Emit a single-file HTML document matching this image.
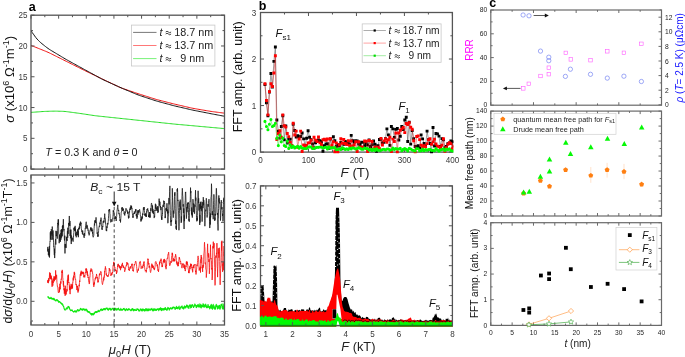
<!DOCTYPE html><html><head><meta charset="utf-8"><style>html,body{margin:0;padding:0;background:#fff;width:685px;height:357px;overflow:hidden}svg{display:block;will-change:transform}text{font-family:"Liberation Sans",sans-serif}</style></head><body>
<svg width="685" height="357" viewBox="0 0 685 357">
<rect width="685" height="357" fill="#fff"/>
<clipPath id="cat"><rect x="31.0" y="15.2" width="193.5" height="153.9"/></clipPath>
<g clip-path="url(#cat)">
<polyline points="31,112.4 32.22,112.29 33.43,112.22 34.65,112.13 35.87,112.04 37.08,111.95 38.3,111.86 39.52,111.77 40.74,111.68 41.95,111.59 43.17,111.51 44.39,111.44 45.6,111.39 46.82,111.34 48.04,111.3 49.25,111.27 50.47,111.23 51.69,111.2 52.91,111.16 54.12,111.15 55.34,111.15 56.56,111.16 57.77,111.18 58.99,111.22 60.21,111.26 61.42,111.29 62.64,111.33 63.86,111.39 65.08,111.48 66.29,111.6 67.51,111.74 68.73,111.91 69.94,112.08 71.16,112.24 72.38,112.41 73.59,112.57 74.81,112.74 76.03,112.91 77.25,113.07 78.46,113.24 79.68,113.41 80.9,113.58 82.11,113.76 83.33,113.94 84.55,114.12 85.76,114.3 86.98,114.49 88.2,114.67 89.42,114.85 90.63,115.04 91.85,115.22 93.07,115.4 94.28,115.58 95.5,115.74 96.72,115.89 97.93,116.03 99.15,116.16 100.37,116.29 101.58,116.42 102.8,116.55 104.02,116.68 105.24,116.8 106.45,116.93 107.67,117.06 108.89,117.19 110.1,117.32 111.32,117.44 112.54,117.57 113.75,117.7 114.97,117.83 116.19,117.96 117.41,118.08 118.62,118.21 119.84,118.34 121.06,118.46 122.27,118.59 123.49,118.72 124.71,118.85 125.92,118.97 127.14,119.1 128.36,119.23 129.58,119.36 130.79,119.48 132.01,119.61 133.23,119.74 134.44,119.87 135.66,120 136.88,120.13 138.09,120.25 139.31,120.38 140.53,120.51 141.75,120.64 142.96,120.77 144.18,120.9 145.4,121.03 146.61,121.15 147.83,121.28 149.05,121.41 150.26,121.54 151.48,121.67 152.7,121.8 153.92,121.93 155.13,122.05 156.35,122.18 157.57,122.31 158.78,122.44 160,122.57 161.22,122.7 162.43,122.83 163.65,122.95 164.87,123.08 166.08,123.21 167.3,123.34 168.52,123.47 169.74,123.6 170.95,123.73 172.17,123.85 173.39,123.98 174.6,124.1 175.82,124.22 177.04,124.33 178.25,124.44 179.47,124.55 180.69,124.66 181.91,124.77 183.12,124.88 184.34,124.99 185.56,125.1 186.77,125.2 187.99,125.31 189.21,125.42 190.42,125.53 191.64,125.64 192.86,125.75 194.08,125.86 195.29,125.97 196.51,126.08 197.73,126.19 198.94,126.3 200.16,126.41 201.38,126.52 202.59,126.63 203.81,126.74 205.03,126.85 206.25,126.96 207.46,127.07 208.68,127.18 209.9,127.29 211.11,127.4 212.33,127.5 213.55,127.61 214.76,127.72 215.98,127.83 217.2,127.94 218.42,128.05 219.63,128.16 220.85,128.27 222.07,128.38 223.28,128.47 224.5,128.6" fill="none" stroke="#22dd22" stroke-width="1.0" stroke-linejoin="round" />
<polyline points="31,45.4 32.22,45.99 33.43,46.38 34.65,46.86 35.87,47.35 37.08,47.84 38.3,48.33 39.52,48.82 40.74,49.31 41.95,49.79 43.17,50.28 44.39,50.77 45.6,51.26 46.82,51.77 48.04,52.3 49.25,52.86 50.47,53.44 51.69,54.04 52.91,54.65 54.12,55.26 55.34,55.87 56.56,56.48 57.77,57.09 58.99,57.7 60.21,58.3 61.42,58.91 62.64,59.52 63.86,60.13 65.08,60.74 66.29,61.35 67.51,61.95 68.73,62.56 69.94,63.17 71.16,63.78 72.38,64.39 73.59,65 74.81,65.61 76.03,66.21 77.25,66.82 78.46,67.43 79.68,68.04 80.9,68.65 82.11,69.26 83.33,69.86 84.55,70.46 85.76,71.05 86.98,71.64 88.2,72.23 89.42,72.82 90.63,73.4 91.85,73.99 93.07,74.57 94.28,75.16 95.5,75.74 96.72,76.33 97.93,76.91 99.15,77.5 100.37,78.08 101.58,78.67 102.8,79.25 104.02,79.83 105.24,80.41 106.45,80.99 107.67,81.57 108.89,82.14 110.1,82.72 111.32,83.3 112.54,83.88 113.75,84.46 114.97,85.04 116.19,85.61 117.41,86.19 118.62,86.77 119.84,87.31 121.06,87.82 122.27,88.3 123.49,88.74 124.71,89.15 125.92,89.56 127.14,89.97 128.36,90.38 129.58,90.79 130.79,91.2 132.01,91.61 133.23,92.02 134.44,92.43 135.66,92.84 136.88,93.25 138.09,93.65 139.31,94.05 140.53,94.44 141.75,94.83 142.96,95.22 144.18,95.61 145.4,95.99 146.61,96.38 147.83,96.77 149.05,97.16 150.26,97.54 151.48,97.93 152.7,98.32 153.92,98.71 155.13,99.08 156.35,99.44 157.57,99.78 158.78,100.1 160,100.41 161.22,100.72 162.43,101.03 163.65,101.34 164.87,101.65 166.08,101.96 167.3,102.27 168.52,102.58 169.74,102.89 170.95,103.2 172.17,103.51 173.39,103.81 174.6,104.11 175.82,104.4 177.04,104.69 178.25,104.97 179.47,105.25 180.69,105.53 181.91,105.81 183.12,106.09 184.34,106.37 185.56,106.65 186.77,106.93 187.99,107.21 189.21,107.49 190.42,107.77 191.64,108.04 192.86,108.29 194.08,108.52 195.29,108.74 196.51,108.95 197.73,109.16 198.94,109.36 200.16,109.57 201.38,109.78 202.59,109.99 203.81,110.19 205.03,110.4 206.25,110.61 207.46,110.81 208.68,111.02 209.9,111.22 211.11,111.4 212.33,111.58 213.55,111.75 214.76,111.91 215.98,112.07 217.2,112.23 218.42,112.39 219.63,112.56 220.85,112.72 222.07,112.88 223.28,113.01 224.5,113.2" fill="none" stroke="#ee1111" stroke-width="1.0" stroke-linejoin="round" />
<polyline points="31,30.1 32.22,32.64 33.43,34.16 34.65,35.95 35.87,37.59 37.08,39.04 38.3,40.33 39.52,41.54 40.74,42.66 41.95,43.69 43.17,44.66 44.39,45.64 45.6,46.62 46.82,47.55 48.04,48.43 49.25,49.27 50.47,50.05 51.69,50.79 52.91,51.52 54.12,52.25 55.34,52.98 56.56,53.7 57.77,54.43 58.99,55.16 60.21,55.89 61.42,56.62 62.64,57.35 63.86,58.08 65.08,58.8 66.29,59.5 67.51,60.2 68.73,60.88 69.94,61.55 71.16,62.22 72.38,62.88 73.59,63.55 74.81,64.22 76.03,64.89 77.25,65.56 78.46,66.23 79.68,66.9 80.9,67.56 82.11,68.23 83.33,68.9 84.55,69.57 85.76,70.24 86.98,70.9 88.2,71.57 89.42,72.23 90.63,72.9 91.85,73.56 93.07,74.23 94.28,74.89 95.5,75.56 96.72,76.22 97.93,76.89 99.15,77.55 100.37,78.22 101.58,78.86 102.8,79.48 104.02,80.08 105.24,80.66 106.45,81.21 107.67,81.76 108.89,82.31 110.1,82.86 111.32,83.41 112.54,83.97 113.75,84.52 114.97,85.07 116.19,85.62 117.41,86.17 118.62,86.72 119.84,87.27 121.06,87.8 122.27,88.33 123.49,88.84 124.71,89.35 125.92,89.86 127.14,90.37 128.36,90.88 129.58,91.39 130.79,91.9 132.01,92.41 133.23,92.92 134.44,93.43 135.66,93.94 136.88,94.43 138.09,94.89 139.31,95.34 140.53,95.77 141.75,96.17 142.96,96.57 144.18,96.97 145.4,97.37 146.61,97.77 147.83,98.17 149.05,98.58 150.26,98.98 151.48,99.38 152.7,99.78 153.92,100.18 155.13,100.57 156.35,100.94 157.57,101.3 158.78,101.64 160,101.97 161.22,102.3 162.43,102.63 163.65,102.96 164.87,103.29 166.08,103.62 167.3,103.95 168.52,104.28 169.74,104.61 170.95,104.94 172.17,105.27 173.39,105.59 174.6,105.9 175.82,106.2 177.04,106.49 178.25,106.77 179.47,107.05 180.69,107.33 181.91,107.61 183.12,107.89 184.34,108.17 185.56,108.45 186.77,108.73 187.99,109.01 189.21,109.29 190.42,109.57 191.64,109.85 192.86,110.11 194.08,110.37 195.29,110.61 196.51,110.85 197.73,111.09 198.94,111.33 200.16,111.58 201.38,111.82 202.59,112.06 203.81,112.3 205.03,112.54 206.25,112.78 207.46,113.02 208.68,113.26 209.9,113.5 211.11,113.74 212.33,113.97 213.55,114.21 214.76,114.44 215.98,114.67 217.2,114.9 218.42,115.14 219.63,115.37 220.85,115.6 222.07,115.83 223.28,116.02 224.5,116.3" fill="none" stroke="#111" stroke-width="1.0" stroke-linejoin="round" />
</g>
<rect x="31" y="15.2" width="193.5" height="153.9" fill="none" stroke="#555" stroke-width="1.3"/>
<path d="M31 169.1v-3.5M31 15.2v3.5M58.64 169.1v-3.5M58.64 15.2v3.5M86.29 169.1v-3.5M86.29 15.2v3.5M113.93 169.1v-3.5M113.93 15.2v3.5M141.57 169.1v-3.5M141.57 15.2v3.5M169.21 169.1v-3.5M169.21 15.2v3.5M196.86 169.1v-3.5M196.86 15.2v3.5M224.5 169.1v-3.5M224.5 15.2v3.5M44.82 169.1v-2M44.82 15.2v2M72.46 169.1v-2M72.46 15.2v2M100.11 169.1v-2M100.11 15.2v2M127.75 169.1v-2M127.75 15.2v2M155.39 169.1v-2M155.39 15.2v2M183.04 169.1v-2M183.04 15.2v2M210.68 169.1v-2M210.68 15.2v2M31 169.1h3.5M31 138.32h3.5M31 107.54h3.5M31 76.76h3.5M31 45.98h3.5M31 15.2h3.5M31 153.71h2M31 122.93h2M31 92.15h2M31 61.37h2M31 30.59h2M224.5 169.1h-3.5M224.5 138.32h-3.5M224.5 107.54h-3.5M224.5 76.76h-3.5M224.5 45.98h-3.5M224.5 15.2h-3.5M224.5 153.71h-2M224.5 122.93h-2M224.5 92.15h-2M224.5 61.37h-2M224.5 30.59h-2" stroke="#555" stroke-width="1.0" fill="none"/>
<text transform="translate(27.4 172.1) scale(0.93 1)" font-size="8.7" text-anchor="end" fill="#383838">0</text>
<text transform="translate(27.4 141.32) scale(0.93 1)" font-size="8.7" text-anchor="end" fill="#383838">5</text>
<text transform="translate(27.4 110.54) scale(0.93 1)" font-size="8.7" text-anchor="end" fill="#383838">10</text>
<text transform="translate(27.4 79.76) scale(0.93 1)" font-size="8.7" text-anchor="end" fill="#383838">15</text>
<text transform="translate(27.4 48.98) scale(0.93 1)" font-size="8.7" text-anchor="end" fill="#383838">20</text>
<text transform="translate(27.4 18.2) scale(0.93 1)" font-size="8.7" text-anchor="end" fill="#383838">25</text>
<rect x="131.4" y="25.1" width="83.5" height="40.9" fill="#fff" stroke="#c8c8c8" stroke-width="0.8"/>
<path d="M133.1 32.4H156.5" stroke="#555" stroke-width="0.8"/>
<text x="159.4" y="36.2" font-size="10.8" fill="#222"><tspan font-style="italic">t</tspan><tspan> </tspan><tspan fill-opacity="0">&#8776;</tspan><tspan> </tspan>18.7 nm</text>
<path d="M165.7 32q1.35 -1.5 2.7 0t2.7 0M165.7 34q1.35 -1.5 2.7 0t2.7 0" fill="none" stroke="#222" stroke-width="0.85"/>
<path d="M133.1 45.5H156.5" stroke="#ff5555" stroke-width="0.8"/>
<text x="159.4" y="49.3" font-size="10.8" fill="#222"><tspan font-style="italic">t</tspan><tspan> </tspan><tspan fill-opacity="0">&#8776;</tspan><tspan> </tspan>13.7 nm</text>
<path d="M165.7 45.1q1.35 -1.5 2.7 0t2.7 0M165.7 47.1q1.35 -1.5 2.7 0t2.7 0" fill="none" stroke="#222" stroke-width="0.85"/>
<path d="M133.1 58.6H156.5" stroke="#55ee55" stroke-width="0.8"/>
<text x="159.4" y="62.4" font-size="10.8" fill="#222"><tspan font-style="italic">t</tspan><tspan> </tspan><tspan fill-opacity="0">&#8776;</tspan><tspan> </tspan>&#160;&#160;9 nm</text>
<path d="M165.7 58.2q1.35 -1.5 2.7 0t2.7 0M165.7 60.2q1.35 -1.5 2.7 0t2.7 0" fill="none" stroke="#222" stroke-width="0.85"/>
<text x="45.3" y="156.4" font-size="10.8" text-anchor="start" fill="#222" ><tspan font-style="italic">T</tspan> = 0.3 K and <tspan font-style="italic">&#952;</tspan> = 0</text>
<clipPath id="cab"><rect x="31.0" y="175.0" width="193.5" height="150.0"/></clipPath>
<g clip-path="url(#cab)">
<polyline points="47.59,251.69 47.75,246.92 47.91,247.69 48.07,250.81 48.23,248.9 48.39,255.04 48.55,250.93 48.71,255.49 48.87,256.37 49.03,256.26 49.2,255.98 49.36,246.13 49.52,257.47 49.68,249.06 49.84,242.67 50,241.33 50.16,241.69 50.32,232.3 50.48,239.29 50.64,238.39 50.81,231.08 50.97,237.08 51.13,239.92 51.29,229.17 51.45,229.75 51.61,230.09 51.77,234.26 51.93,232.01 52.09,235.73 52.25,226.57 52.42,229.69 52.58,230.09 52.74,239.66 52.9,231.36 53.06,230.59 53.22,233.5 53.38,237.36 53.54,242.81 53.7,246.91 53.86,246.51 54.02,249.73 54.19,252.14 54.35,255.14 54.51,248.71 54.67,258.05 54.83,252.92 54.99,253.04 55.15,245.33 55.31,241.52 55.47,239.69 55.63,239.1 55.8,244.54 55.96,230.86 56.12,235 56.28,236.2 56.44,234.96 56.6,235.47 56.76,231.91 56.92,231.27 57.08,232.42 57.24,238.66 57.41,228.16 57.57,224.75 57.73,223.11 57.89,224.21 58.05,221.37 58.21,219.33 58.37,225.24 58.53,219.67 58.69,233.69 58.85,233.61 59.02,235.05 59.18,243.19 59.34,240.52 59.5,234.6 59.66,236.15 59.82,241.08 59.98,235.48 60.14,240.29 60.3,241.89 60.46,237.9 60.62,237.73 60.79,233.15 60.95,239.7 61.11,229.91 61.27,234.31 61.43,229.38 61.59,237.57 61.75,233.72 61.91,232.1 62.07,229.22 62.23,236.26 62.4,226.04 62.56,229.32 62.72,231.82 62.88,224.98 63.04,227.77 63.2,223.45 63.36,219.17 63.52,224.47 63.68,229.45 63.84,230.39 64.01,228.96 64.17,232.22 64.33,238.36 64.49,240.46 64.65,238.74 64.81,235.69 64.97,253.43 65.13,243.98 65.29,247.64 65.45,244.62 65.62,243.95 65.78,245.64 65.94,247.81 66.1,247.59 66.26,247.68 66.42,236.84 66.58,240.14 66.74,240.19 66.9,238.56 67.06,241.06 67.22,235.37 67.39,231.47 67.55,230.99 67.71,237.87 67.87,227.69 68.03,232.24 68.19,233.81 68.35,229.86 68.51,227.3 68.67,222.93 68.83,224.71 69,225.38 69.16,221.7 69.32,215.97 69.48,224.57 69.64,222.9 69.8,226.03 69.96,220.95 70.12,235.98 70.28,229.82 70.44,238.29 70.61,237.97 70.77,237.78 70.93,229.58 71.09,240.79 71.25,244.04 71.41,235.47 71.57,241.14 71.73,239.52 71.89,238.97 72.05,238.75 72.22,239.66 72.38,238.76 72.54,238.67 72.7,237.69 72.86,240.94 73.02,241.43 73.18,241.63 73.34,236.61 73.5,236.95 73.66,234.02 73.83,232.47 73.99,227.99 74.15,229.91 74.31,227.23 74.47,230.75 74.63,229.67 74.79,227.63 74.95,229.72 75.11,225.86 75.27,231.19 75.43,229.05 75.6,235.66 75.76,233.77 75.92,233.05 76.08,233.62 76.24,237.3 76.4,233.55 76.56,231.77 76.72,232.25 76.88,234.57 77.04,234.08 77.21,234.92 77.37,231.14 77.53,229.46 77.69,233.14 77.85,235.36 78.01,231.9 78.17,231.01 78.33,237.19 78.49,231.84 78.65,227.94 78.82,229.75 78.98,229.45 79.14,228.72 79.3,226.51 79.46,228.65 79.62,227.29 79.78,224.16 79.94,224.96 80.1,222.83 80.26,225.9 80.43,221.61 80.59,221.75 80.75,223.47 80.91,224.08 81.07,222.75 81.23,228.06 81.39,228.84 81.55,230.14 81.71,230.03 81.87,231.73 82.03,230.77 82.2,232.28 82.36,233.88 82.52,234.41 82.68,230.59 82.84,232.9 83,233.59 83.16,233.75 83.32,234.52 83.48,233.91 83.64,234.78 83.81,236.94 83.97,237.54 84.13,237.93 84.29,237.75 84.45,233.12 84.61,235.47 84.77,235.82 84.93,232.61 85.09,231.01 85.25,227.98 85.42,228.47 85.58,225.44 85.74,225.07 85.9,223.61 86.06,222.46 86.22,221.77 86.38,224.39 86.54,228.49 86.7,227.8 86.86,227.19 87.03,224.88 87.19,226.98 87.35,226.37 87.51,228.49 87.67,227.82 87.83,228.14 87.99,230.54 88.15,229.75 88.31,230.47 88.47,233.31 88.63,232.78 88.8,232.72 88.96,235.29 89.12,235.37 89.28,235.22 89.44,234.82 89.6,232.56 89.76,232 89.92,230.6 90.08,230.17 90.24,230.39 90.41,229.29 90.57,227.66 90.73,230.05 90.89,229.83 91.05,227.37 91.21,228.56 91.37,231.18 91.53,229.54 91.69,231.17 91.85,228.15 92.02,231.16 92.18,230.69 92.34,229.68 92.5,233.55 92.66,232 92.82,236.01 92.98,235.91 93.14,237.27 93.3,237.17 93.46,236.5 93.63,235.82 93.79,235.29 93.95,230.64 94.11,228.46 94.27,225.47 94.43,223.5 94.59,225.5 94.75,221.13 94.91,220.51 95.07,222.58 95.24,220.57 95.4,219.96 95.56,222.36 95.72,223.12 95.88,221.51 96.04,217.35 96.2,220.6 96.36,222.79 96.52,222.59 96.68,225.05 96.84,226.32 97.01,228.03 97.17,233.84 97.33,232.4 97.49,232.89 97.65,236.1 97.81,236.78 97.97,234.57 98.13,236.5 98.29,235.04 98.45,233.6 98.62,230.47 98.78,228.46 98.94,227.97 99.1,226.52 99.26,225.7 99.42,225.68 99.58,226.79 99.74,225.45 99.9,222.65 100.06,224.24 100.23,222.03 100.39,221.05 100.55,219.9 100.71,220.7 100.87,221.33 101.03,217.63 101.19,221.07 101.35,224.91 101.51,226.02 101.67,226.81 101.84,229.17 102,228.58 102.16,229.9 102.32,228.79 102.48,227.2 102.64,226.22 102.8,227.12 102.96,223.05 103.12,221.95 103.28,221.1 103.44,222.49 103.61,220.71 103.77,220.66 103.93,222.52 104.09,222.31 104.25,218.3 104.41,218.9 104.57,215.67 104.73,213.69 104.89,216.7 105.05,217.36 105.22,217.85 105.38,218.92 105.54,223.34 105.7,223.03 105.86,225.66 106.02,227.93 106.18,230.59 106.34,229.48 106.5,229.42 106.66,231.15 106.83,226.44 106.99,228.06 107.15,226.19 107.31,226.34 107.47,224.59 107.63,223 107.79,224.48 107.95,224.53 108.11,221.95 108.27,221.31 108.44,218.71 108.6,215.83 108.76,213.58 108.92,210.16 109.08,211.37 109.24,209.2 109.4,210.33 109.56,209.18 109.72,209.4 109.88,213.71 110.04,214.15 110.21,218.37 110.37,220.94 110.53,221.53 110.69,222.33 110.85,221.74 111.01,220.83 111.17,219.15 111.33,219.64 111.49,220.07 111.65,221.35 111.82,222.01 111.98,221.52 112.14,221.41 112.3,220.81 112.46,219.66 112.62,218.77 112.78,218.99 112.94,216.31 113.1,214.34 113.26,210.33 113.43,211.95 113.59,210.8 113.75,210.65 113.91,212.99 114.07,215.23 114.23,216.62 114.39,218.71 114.55,218.27 114.71,217.9 114.87,218.59 115.04,218.18 115.2,217.88 115.36,216.21 115.52,218.84 115.68,218.01 115.84,217.57 116,217.17 116.16,221 116.32,218.58 116.48,217.31 116.65,216.74 116.81,212.84 116.97,211.4 117.13,209.83 117.29,209.23 117.45,207.49 117.61,206.4 117.77,204.87 117.93,207.31 118.09,209.39 118.25,210.2 118.42,210.9 118.58,209.89 118.74,210.16 118.9,214.15 119.06,213.29 119.22,213.3 119.38,214.02 119.54,216.19 119.7,218.28 119.86,218.46 120.03,220.96 120.19,219.61 120.35,219.62 120.51,222.46 120.67,219.97 120.83,218.32 120.99,215.71 121.15,213.59 121.31,212.16 121.47,211.91 121.64,210.21 121.8,207.7 121.96,209.22 122.12,208.59 122.28,207.13 122.44,209.03 122.6,211.05 122.76,210.16 122.92,209.23 123.08,210.09 123.25,208.65 123.41,208.53 123.57,210.77 123.73,211.16 123.89,211.53 124.05,213.68 124.21,213.06 124.37,214.52 124.53,214 124.69,215.51 124.85,215.33 125.02,211.55 125.18,213.26 125.34,211.68 125.5,210.74 125.66,209.36 125.82,209.42 125.98,208.28 126.14,209.21 126.3,209.33 126.46,209.08 126.63,209.24 126.79,209.9 126.95,211.48 127.11,210.44 127.27,211.15 127.43,211.38 127.59,213.54 127.75,211.57 127.91,213.27 128.07,212.29 128.24,214.55 128.4,217.51 128.56,218.43 128.72,215.93 128.88,217.96 129.04,215.44 129.2,215.45 129.36,211.43 129.52,212.4 129.68,209.47 129.85,208.65 130.01,210.02 130.17,209.45 130.33,207.16 130.49,208.75 130.65,209.68 130.81,207.14 130.97,205.29 131.13,208.1 131.29,206.15 131.45,207.96 131.62,206.5 131.78,208.98 131.94,208.19 132.1,210.31 132.26,212.59 132.42,213.54 132.58,215.72 132.74,217.37 132.9,217.77 133.06,216.56 133.23,217.4 133.39,214.94 133.55,214.07 133.71,213.45 133.87,214.08 134.03,213.09 134.19,213.1 134.35,211.43 134.51,213.92 134.67,213.25 134.84,212.8 135,212.27 135.16,212.47 135.32,211.87 135.48,209.52 135.64,211.5 135.8,209.88 135.96,209.19 136.12,211.09 136.28,216.11 136.45,214 136.61,215.26 136.77,215.83 136.93,218.76 137.09,215.56 137.25,217.27 137.41,213.49 137.57,212.96 137.73,210.38 137.89,213.55 138.06,214.63 138.22,211.14 138.38,211.23 138.54,212.66 138.7,210.07 138.86,210.45 139.02,212.42 139.18,210.51 139.34,210.14 139.5,209.46 139.66,209.24 139.83,211.05 139.99,211.47 140.15,211.85 140.31,214.43 140.47,216.34 140.63,217.79 140.79,218.55 140.95,221.56 141.11,218.9 141.27,220.32 141.44,218.41 141.6,220.21 141.76,216.57 141.92,217.21 142.08,219.15 142.24,216.73 142.4,217.71 142.56,213.58 142.72,214.41 142.88,215 143.05,212.11 143.21,211 143.37,207.91 143.53,208.12 143.69,207.45 143.85,209.96 144.01,207.83 144.17,207 144.33,210.28 144.49,212.39 144.66,213.06 144.82,215.35 144.98,214 145.14,215.84 145.3,214.03 145.46,214.54 145.62,215.24 145.78,213.25 145.94,216.66 146.1,214.79 146.26,217.01 146.43,212.16 146.59,211.46 146.75,212.36 146.91,209.56 147.07,210.22 147.23,209.03 147.39,209.57 147.55,209.83 147.71,208.37 147.87,210.13 148.04,211.15 148.2,210.59 148.36,213.31 148.52,216.77 148.68,215.46 148.84,216.73 149,216.05 149.16,217.26 149.32,213.38 149.48,212.18 149.65,217.31 149.81,214.56 149.97,214.82 150.13,217.6 150.29,215.2 150.45,212.06 150.61,211.57 150.77,208.32 150.93,210.89 151.09,208.05 151.26,204.47 151.42,203.16 151.58,203.19 151.74,204.06 151.9,204.84 152.06,206.29 152.22,205.68 152.38,212.45 152.54,205.67 152.7,210.22 152.87,212.39 153.03,209.35 153.19,213.55 153.35,211.23 153.51,213.78 153.67,213.32 153.83,214.23 153.99,214.37 154.15,218.08 154.31,217.41 154.47,215.93 154.64,216.91 154.8,211.23 154.96,210.01 155.12,210.95 155.28,204.79 155.44,203.75 155.6,208.65 155.76,205.38 155.92,204.63 156.08,205.93 156.25,209.76 156.41,210.6 156.57,207.98 156.73,208.57 156.89,207.58 157.05,208.01 157.21,207.47 157.37,210.63 157.53,211.08 157.69,206.11 157.86,213.04 158.02,211.51 158.18,211.97 158.34,210.89 158.5,211.39 158.66,206.4 158.82,205.64 158.98,202.22 159.14,198.64 159.3,202.16 159.47,201.22 159.63,205.62 159.79,204 159.95,201.77 160.11,205.81 160.27,207.39 160.43,205.95 160.59,207.32 160.75,208.38 160.91,210.13 161.07,206.97 161.24,215.66 161.4,217.07 161.56,219.43 161.72,216.56 161.88,219.9 162.04,215.18 162.2,215.67 162.36,213.46 162.52,214.06 162.68,205.67 162.85,205.53 163.01,204.79 163.17,205.38 163.33,205.53 163.49,206.82 163.65,200.66 163.81,201.15 163.97,201.76 164.13,202.15 164.29,201.26 164.46,203.87 164.62,202.82 164.78,208.45 164.94,214.87 165.1,218.11 165.26,216.6 165.42,217.47 165.58,213.23 165.74,210.48 165.9,208.44 166.07,208.32 166.23,209.75 166.39,207.83 166.55,211.17 166.71,207.82 166.87,203.48 167.03,203.24 167.19,206.97 167.35,208.49 167.51,213.48 167.67,209.61 167.84,223.2 168,222.66 168.16,217.38 168.32,216.56 168.48,211.69 168.64,212.47 168.8,206.17 168.96,197.95 169.12,204.36 169.28,199.97 169.45,197.22 169.61,191.39 169.77,187.29 169.93,185.9 170.09,198.56 170.25,209.63 170.41,215.38 170.57,222.01 170.73,221.52 170.89,223.33 171.06,225.83 171.22,221.69 171.38,220.07 171.54,221.76 171.7,220.22 171.86,210.68 172.02,204.94 172.18,201.53 172.34,188.34 172.5,197.52 172.67,200.48 172.83,207.53 172.99,212.98 173.15,214.89 173.31,217.67 173.47,210.68 173.63,212.2 173.79,213.58 173.95,211.87 174.11,210.73 174.28,205.35 174.44,196.42 174.6,193.33 174.76,195.61 174.92,192.1 175.08,199.45 175.24,208.25 175.4,218.25 175.56,224.01 175.72,220.68 175.88,220.86 176.05,228.73 176.21,225.96 176.37,229.96 176.53,229.33 176.69,219.57 176.85,211.21 177.01,200.77 177.17,189.17 177.33,191.35 177.49,188.29 177.66,192.43 177.82,200.91 177.98,199.88 178.14,201.99 178.3,207.34 178.46,210.27 178.62,214.03 178.78,219.84 178.94,230.26 179.1,226.26 179.27,218.34 179.43,213.38 179.59,207.79 179.75,203.19 179.91,201.51 180.07,206.6 180.23,199.63 180.39,209.79 180.55,206.59 180.71,207.13 180.88,207.26 181.04,214.76 181.2,222.87 181.36,216.47 181.52,221.58 181.68,215.78 181.84,207.36 182,195.56 182.16,191.51 182.32,188.29 182.48,190.35 182.65,195 182.81,196.39 182.97,201.03 183.13,206.52 183.29,204.25 183.45,212.99 183.61,208.45 183.77,218.81 183.93,223.96 184.09,229.02 184.26,215.33 184.42,221.18 184.58,213.88 184.74,208.93 184.9,207.73 185.06,202.79 185.22,200.63 185.38,192.27 185.54,192.83 185.7,191.9 185.87,197.04 186.03,203.99 186.19,211.67 186.35,218.62 186.51,217.71 186.67,214.37 186.83,207.15 186.99,212.16 187.15,209.45 187.31,203.98 187.48,208.25 187.64,202.95 187.8,203.6 187.96,202.68 188.12,204.1 188.28,202.37 188.44,209.56 188.6,215.46 188.76,220.63 188.92,220.09 189.08,219.08 189.25,221.73 189.41,212.76 189.57,207.82 189.73,203.62 189.89,202.47 190.05,201.39 190.21,201.67 190.37,196.1 190.53,187.62 190.69,193.14 190.86,191.1 191.02,196.43 191.18,210.54 191.34,210.24 191.5,214.3 191.66,207.5 191.82,210.95 191.98,215.4 192.14,212.99 192.3,217.59 192.47,213.69 192.63,208.99 192.79,204.33 192.95,199.16 193.11,200.88 193.27,204.98 193.43,203.59 193.59,209.66 193.75,212.15 193.91,203.87 194.08,206.55 194.24,209.92 194.4,213.68 194.56,213.65 194.72,208.58 194.88,205.25 195.04,206.63 195.2,200.47 195.36,195.46 195.52,190.19 195.69,200.67 195.85,197.65 196.01,202.2 196.17,205.33 196.33,210.46 196.49,217.18 196.65,216.62 196.81,221.34 196.97,217.8 197.13,219.58 197.29,218.5 197.46,220.48 197.62,215.52 197.78,200.15 197.94,198.89 198.1,190.79 198.26,195.09 198.42,203.26 198.58,198.29 198.74,198.48 198.9,204.77 199.07,210.53 199.23,204.15 199.39,210.13 199.55,212.67 199.71,224.95 199.87,214.93 200.03,222.54 200.19,212.08 200.35,202.15 200.51,208.43 200.68,208.69 200.84,206.13 201,201.61 201.16,203.17 201.32,210.68 201.48,205.91 201.64,208.64 201.8,212.4 201.96,215.68 202.12,221.63 202.29,216.9 202.45,212.95 202.61,202.42 202.77,202.06 202.93,208.1 203.09,202.1 203.25,197.19 203.41,198.75 203.57,205.24 203.73,200.04 203.89,201.26 204.06,202.53 204.22,207.19 204.38,210.02 204.54,214.2 204.7,220.19 204.86,226.2 205.02,222.84 205.18,218.12 205.34,212.41 205.5,211.09 205.67,209.73 205.83,210.71 205.99,203.45 206.15,201.14 206.31,198.26 206.47,200.62 206.63,200.88 206.79,209.34 206.95,214.89 207.11,217.51 207.28,215.17 207.44,215.36 207.6,214.54 207.76,207.18 207.92,204.09 208.08,204.3 208.24,206.65 208.4,203.71 208.56,203.11 208.72,200.71 208.89,199.11 209.05,199.38 209.21,202.51 209.37,211.36 209.53,221.33 209.69,227.94 209.85,227.98 210.01,224.54 210.17,216.51 210.33,224.59 210.49,213.53 210.66,217.37 210.82,207.44 210.98,197.31 211.14,196.53 211.3,194.63 211.46,183.72 211.62,186.75 211.78,197.18 211.94,203.1 212.1,214.97 212.27,212.42 212.43,211.27 212.59,213.76 212.75,215.1 212.91,213.62 213.07,215.11 213.23,219.22 213.39,209.19 213.55,204.67 213.71,200.33 213.88,194.37 214.04,197.04 214.2,202.6 214.36,212.39 214.52,213.61 214.68,220.81 214.84,217.6 215,220.29 215.16,219.53 215.32,213.93 215.49,215.44 215.65,213.05 215.81,206.61 215.97,199.85 216.13,195.64 216.29,188.27 216.45,188.4 216.61,193.91 216.77,199.71 216.93,206.89 217.1,212.36 217.26,214.36 217.42,214.96 217.58,212.92 217.74,224.29 217.9,224.31 218.06,230.47 218.22,219.79 218.38,218.3 218.54,208.67 218.7,198.55 218.87,195.41 219.03,201.7 219.19,198.15 219.35,202.55 219.51,201.82 219.67,203.41 219.83,202.27 219.99,205.18 220.15,209.75 220.31,210.59 220.48,220.58 220.64,217.73 220.8,215.53 220.96,208.08 221.12,203.76 221.28,200.13 221.44,201.11 221.6,203.35 221.76,209.26 221.92,207.09 222.09,207.29 222.25,210.48 222.41,212.59 222.57,215.94 222.73,214.14 222.89,221.31 223.05,221.43 223.21,220.15 223.37,215.23 223.53,209.83 223.7,198.47 223.86,203.61 224.02,197.62 224.18,198.36 224.34,198.67 224.5,201.38" fill="none" stroke="#1a1a1a" stroke-width="0.8" stroke-linejoin="round" />
<polyline points="47.59,282.99 47.75,280.36 47.91,281.73 48.07,281.68 48.23,279.85 48.39,283.15 48.55,278.23 48.71,278.72 48.87,281.28 49.03,280.63 49.2,279.51 49.36,277.18 49.52,273.88 49.68,272.38 49.84,278.55 50,277.32 50.16,276.39 50.32,273.12 50.48,275.05 50.64,278.62 50.81,275.38 50.97,279.36 51.13,275.83 51.29,278.58 51.45,277.5 51.61,280.29 51.77,283.81 51.93,285.57 52.09,286.79 52.25,285.03 52.42,280.61 52.58,280.77 52.74,285.72 52.9,285.34 53.06,278.55 53.22,282.94 53.38,280.25 53.54,279.46 53.7,280.05 53.86,276.43 54.02,276.47 54.19,277.48 54.35,281.25 54.51,281.14 54.67,277.42 54.83,279.15 54.99,276.21 55.15,278.88 55.31,279.71 55.47,278.95 55.63,270.38 55.8,277.93 55.96,277.61 56.12,278.54 56.28,277.09 56.44,276.93 56.6,274.81 56.76,277.42 56.92,282.4 57.08,283.14 57.24,284.72 57.41,286.58 57.57,286.32 57.73,287.28 57.89,288.07 58.05,290.38 58.21,292.25 58.37,292.34 58.53,292.88 58.69,291.92 58.85,291.58 59.02,290.05 59.18,290.22 59.34,287 59.5,292.28 59.66,285.37 59.82,283.75 59.98,285.37 60.14,287.35 60.3,289.29 60.46,285.17 60.62,281.44 60.79,283.04 60.95,283.54 61.11,279.02 61.27,278.7 61.43,279.53 61.59,278.22 61.75,273.11 61.91,271.15 62.07,273.01 62.23,269.86 62.4,272.81 62.56,272.26 62.72,277.89 62.88,277.95 63.04,281.98 63.2,281.82 63.36,285.4 63.52,281.07 63.68,286.56 63.84,285.61 64.01,290.19 64.17,288.26 64.33,293.7 64.49,289.2 64.65,291.44 64.81,288.81 64.97,289.53 65.13,295.81 65.29,285.75 65.45,292.71 65.62,293.46 65.78,294.63 65.94,291.76 66.1,294.34 66.26,293.11 66.42,290.82 66.58,291.75 66.74,290.84 66.9,288.95 67.06,291.24 67.22,284.47 67.39,279.81 67.55,284.88 67.71,279.16 67.87,277.78 68.03,275.45 68.19,280.59 68.35,274.63 68.51,276.59 68.67,282.97 68.83,282.53 69,282.19 69.16,283.47 69.32,286.01 69.48,289.91 69.64,286.84 69.8,285.56 69.96,292.17 70.12,294.11 70.28,288.24 70.44,287.34 70.61,289.6 70.77,286.43 70.93,286.86 71.09,283.86 71.25,284.69 71.41,287.1 71.57,285.9 71.73,289.05 71.89,285.52 72.05,287.82 72.22,284.31 72.38,286.96 72.54,288.39 72.7,282.45 72.86,282.68 73.02,280.42 73.18,277.61 73.34,280.4 73.5,278.56 73.66,275.7 73.83,276.51 73.99,277.66 74.15,272.97 74.31,271.87 74.47,275.02 74.63,272.75 74.79,274.77 74.95,275.53 75.11,278.59 75.27,279.44 75.43,278.82 75.6,279.39 75.76,280.62 75.92,285.04 76.08,285.04 76.24,284.61 76.4,284.19 76.56,286.7 76.72,286.18 76.88,290.06 77.04,288.05 77.21,286.71 77.37,287.49 77.53,285.84 77.69,291.18 77.85,291.37 78.01,292.57 78.17,288.63 78.33,291.3 78.49,291.18 78.65,289.72 78.82,288.06 78.98,286.89 79.14,284.76 79.3,286.17 79.46,282.37 79.62,280.63 79.78,282.06 79.94,278.74 80.1,275.36 80.26,274.36 80.43,275.19 80.59,274.04 80.75,272.53 80.91,275.94 81.07,272 81.23,270.76 81.39,273.74 81.55,273.25 81.71,272.18 81.87,274.42 82.03,272.8 82.2,273.37 82.36,272.35 82.52,273.32 82.68,271.78 82.84,272.18 83,272.66 83.16,273.65 83.32,271.88 83.48,274.16 83.64,273.51 83.81,277.29 83.97,276.28 84.13,276.6 84.29,275.12 84.45,276.49 84.61,276.94 84.77,277.36 84.93,276.89 85.09,274.82 85.25,272.38 85.42,272.4 85.58,272.96 85.74,271.04 85.9,268.82 86.06,269.73 86.22,268.31 86.38,271.08 86.54,271.22 86.7,269.37 86.86,272.86 87.03,271.03 87.19,274.72 87.35,271.79 87.51,272.88 87.67,275.86 87.83,274.73 87.99,277.79 88.15,277.51 88.31,276.95 88.47,278.19 88.63,280.42 88.8,280.18 88.96,282.19 89.12,281.55 89.28,284.06 89.44,282.68 89.6,282.83 89.76,277.05 89.92,277.2 90.08,275.67 90.24,272.74 90.41,270.65 90.57,269.93 90.73,271.99 90.89,270.65 91.05,268.45 91.21,269.62 91.37,270.38 91.53,270.87 91.69,270.51 91.85,269.48 92.02,271.67 92.18,272.1 92.34,271.62 92.5,272.17 92.66,274.02 92.82,274.26 92.98,278.53 93.14,280.28 93.3,281.77 93.46,284.75 93.63,283.67 93.79,286.84 93.95,285.91 94.11,284.55 94.27,282.54 94.43,284.38 94.59,281.55 94.75,281.09 94.91,280.03 95.07,279.29 95.24,278.17 95.4,279.32 95.56,278.63 95.72,276.93 95.88,277.15 96.04,278.36 96.2,276.23 96.36,276.06 96.52,273.96 96.68,275.31 96.84,275.27 97.01,276.76 97.17,278.01 97.33,277.17 97.49,277.59 97.65,281.51 97.81,282.38 97.97,282.17 98.13,281.23 98.29,282.17 98.45,281.02 98.62,279.62 98.78,278.64 98.94,278.8 99.1,276.92 99.26,275.69 99.42,274.16 99.58,275.3 99.74,273.53 99.9,274.02 100.06,274.84 100.23,272.87 100.39,272.89 100.55,272.69 100.71,271.39 100.87,271.31 101.03,272.65 101.19,272.41 101.35,273.59 101.51,276.56 101.67,277.65 101.84,280.4 102,282.28 102.16,283.36 102.32,283.83 102.48,284.64 102.64,284.19 102.8,282.96 102.96,282.13 103.12,281.27 103.28,281.27 103.44,279.39 103.61,278.17 103.77,280.28 103.93,276.87 104.09,277.71 104.25,275.79 104.41,276.31 104.57,271.33 104.73,272.15 104.89,269.98 105.05,268.73 105.22,268.9 105.38,266.41 105.54,267.74 105.7,269.26 105.86,268.68 106.02,271.9 106.18,274.77 106.34,273.53 106.5,275.62 106.66,276.11 106.83,275.82 106.99,275.41 107.15,275.62 107.31,275.77 107.47,275.67 107.63,276.65 107.79,275.69 107.95,275.41 108.11,276.63 108.27,275.03 108.44,275.23 108.6,273.73 108.76,273.5 108.92,272.18 109.08,271.63 109.24,268.03 109.4,269.28 109.56,269.66 109.72,270.61 109.88,269.3 110.04,270.08 110.21,273.46 110.37,274.54 110.53,274.85 110.69,275.48 110.85,275.9 111.01,275.21 111.17,275.34 111.33,273.41 111.49,274.49 111.65,274.89 111.82,273.49 111.98,274.56 112.14,272.32 112.3,273.14 112.46,272.25 112.62,272.74 112.78,271.28 112.94,267.9 113.1,265.73 113.26,265.22 113.43,265.74 113.59,262.55 113.75,263.59 113.91,261.8 114.07,264.81 114.23,263.35 114.39,266.59 114.55,266.36 114.71,267.75 114.87,267.27 115.04,269.15 115.2,269.52 115.36,270.8 115.52,269.51 115.68,270.62 115.84,270.69 116,269.95 116.16,271.23 116.32,270.84 116.48,274 116.65,272.21 116.81,271.69 116.97,272.38 117.13,271.06 117.29,269.5 117.45,267.53 117.61,265.58 117.77,266.68 117.93,264.49 118.09,265.01 118.25,263.83 118.42,265.84 118.58,265.51 118.74,265.28 118.9,266.05 119.06,266.76 119.22,267.57 119.38,265.4 119.54,265.93 119.7,267.41 119.86,266.53 120.03,268.47 120.19,266.5 120.35,266.9 120.51,270.18 120.67,268.52 120.83,268.72 120.99,268.28 121.15,266.37 121.31,267.84 121.47,267.04 121.64,266.36 121.8,264.59 121.96,265.45 122.12,266.18 122.28,264.26 122.44,262.87 122.6,265.75 122.76,265.82 122.92,266.09 123.08,266.81 123.25,267.83 123.41,265.63 123.57,266.48 123.73,266.61 123.89,267.96 124.05,268.03 124.21,267.46 124.37,267.95 124.53,269.42 124.69,271.78 124.85,270.54 125.02,270.26 125.18,270.23 125.34,270.03 125.5,269.25 125.66,267.18 125.82,266.86 125.98,266.04 126.14,265.52 126.3,265.93 126.46,266.1 126.63,263.83 126.79,263.3 126.95,262 127.11,264.64 127.27,264.4 127.43,263.06 127.59,263.83 127.75,264.16 127.91,263.39 128.07,264 128.24,265.93 128.4,266.97 128.56,268.23 128.72,270.03 128.88,269.79 129.04,269.07 129.2,270.21 129.36,270.86 129.52,269.76 129.68,267.81 129.85,268.06 130.01,268.04 130.17,266.8 130.33,267.22 130.49,266.59 130.65,266.35 130.81,268.63 130.97,266.66 131.13,266.65 131.29,266.68 131.45,266.43 131.62,264.84 131.78,263.89 131.94,264.77 132.1,264.63 132.26,263.8 132.42,266.38 132.58,268.09 132.74,270.8 132.9,270.31 133.06,270.65 133.23,270.32 133.39,271.42 133.55,269.93 133.71,268.18 133.87,267.43 134.03,266.63 134.19,265.45 134.35,264.05 134.51,265.24 134.67,264.69 134.84,264.37 135,263.88 135.16,263.38 135.32,261.76 135.48,261.75 135.64,261.02 135.8,261.36 135.96,261.82 136.12,262.38 136.28,263.28 136.45,264.23 136.61,266.36 136.77,268.26 136.93,270.69 137.09,270.72 137.25,272.66 137.41,272.18 137.57,270.81 137.73,270.64 137.89,270.81 138.06,270.83 138.22,269.1 138.38,270.46 138.54,269.05 138.7,267.88 138.86,267.62 139.02,266.86 139.18,265.7 139.34,264.39 139.5,262.24 139.66,262.56 139.83,262.21 139.99,261.42 140.15,261.37 140.31,261.34 140.47,261.89 140.63,263.8 140.79,265.53 140.95,266.54 141.11,268.77 141.27,268.44 141.44,267.77 141.6,267.49 141.76,267.33 141.92,267.08 142.08,265.94 142.24,267.13 142.4,267.44 142.56,268.31 142.72,266.87 142.88,267.47 143.05,266.15 143.21,264.62 143.37,265.86 143.53,262.87 143.69,262.55 143.85,263.01 144.01,261.42 144.17,261.73 144.33,263.89 144.49,265.86 144.66,267.74 144.82,268.98 144.98,269.92 145.14,269.98 145.3,271.2 145.46,270.88 145.62,270.62 145.78,270.96 145.94,270.73 146.1,269.96 146.26,272.38 146.43,270.87 146.59,269.63 146.75,268.39 146.91,268.78 147.07,266.71 147.23,266.4 147.39,262.99 147.55,261.68 147.71,260.62 147.87,258.61 148.04,259.85 148.2,259.22 148.36,260.49 148.52,262.99 148.68,264.47 148.84,263.15 149,265.02 149.16,267.73 149.32,265.99 149.48,266.81 149.65,265.79 149.81,268.25 149.97,269.53 150.13,269.96 150.29,271.76 150.45,272.33 150.61,272.58 150.77,271.5 150.93,271.23 151.09,269.97 151.26,268.18 151.42,266.83 151.58,264.9 151.74,263.76 151.9,263.71 152.06,264.36 152.22,267.2 152.38,264.81 152.54,267.59 152.7,266.55 152.87,267.7 153.03,267.57 153.19,266.87 153.35,265.76 153.51,266.76 153.67,268.48 153.83,268.89 153.99,267.94 154.15,269.07 154.31,270.1 154.47,268.67 154.64,269.08 154.8,267.96 154.96,266.79 155.12,266.53 155.28,262.31 155.44,262.03 155.6,261.78 155.76,261.36 155.92,261.66 156.08,262.74 156.25,263.32 156.41,262.84 156.57,263.87 156.73,263.91 156.89,264.3 157.05,265.08 157.21,266.27 157.37,264.62 157.53,268.27 157.69,268.98 157.86,270.62 158.02,270.13 158.18,269.69 158.34,269.6 158.5,271.89 158.66,270.18 158.82,269.16 158.98,266.93 159.14,266.26 159.3,265.54 159.47,262.61 159.63,264.31 159.79,261.54 159.95,262.97 160.11,261.66 160.27,261.57 160.43,259.88 160.59,260.03 160.75,260.62 160.91,261.08 161.07,258.68 161.24,260.09 161.4,261.34 161.56,264.21 161.72,264.25 161.88,266.08 162.04,267.09 162.2,266.06 162.36,265.35 162.52,266.9 162.68,263.77 162.85,263.92 163.01,262.39 163.17,262.22 163.33,260.7 163.49,262.31 163.65,259.53 163.81,260.71 163.97,261.64 164.13,262.36 164.29,259.45 164.46,258.91 164.62,262.46 164.78,259.72 164.94,260.7 165.1,260.42 165.26,262.07 165.42,266.77 165.58,266.46 165.74,267.34 165.9,266.5 166.07,269.2 166.23,266.25 166.39,264.72 166.55,265.74 166.71,261.04 166.87,260.62 167.03,259.23 167.19,258.3 167.35,258.84 167.51,258.52 167.67,256.74 167.84,255.14 168,254.54 168.16,253.84 168.32,254.29 168.48,253.62 168.64,252.15 168.8,253.55 168.96,256.83 169.12,259.4 169.28,262.74 169.45,264.51 169.61,265.11 169.77,265.76 169.93,264.7 170.09,263.57 170.25,264.35 170.41,262.38 170.57,262.5 170.73,262.21 170.89,261 171.06,261.3 171.22,262.89 171.38,259.8 171.54,258.99 171.7,257.01 171.86,255.97 172.02,256.25 172.18,252.74 172.34,255.24 172.5,253.17 172.67,255.21 172.83,259.34 172.99,261.6 173.15,259.88 173.31,260.71 173.47,258.34 173.63,259.75 173.79,259.58 173.95,260.63 174.11,259.39 174.28,261.36 174.44,261.22 174.6,259.43 174.76,261.08 174.92,258.36 175.08,256.64 175.24,257.15 175.4,256.6 175.56,254.16 175.72,254.58 175.88,256.14 176.05,256.13 176.21,257.41 176.37,260.78 176.53,263.36 176.69,262.55 176.85,261.41 177.01,261.72 177.17,264.94 177.33,263.04 177.49,262.69 177.66,265.41 177.82,266.24 177.98,265.33 178.14,264.41 178.3,266.07 178.46,262.2 178.62,263.93 178.78,263.14 178.94,259.59 179.1,259.21 179.27,257.06 179.43,259.11 179.59,258.44 179.75,258.6 179.91,259.81 180.07,260.38 180.23,261.72 180.39,261.49 180.55,261.03 180.71,261.92 180.88,264.13 181.04,263.39 181.2,264.24 181.36,264.92 181.52,265.5 181.68,266.14 181.84,267.74 182,268.14 182.16,266.06 182.32,266.16 182.48,264.79 182.65,264.09 182.81,264.69 182.97,263.23 183.13,264.66 183.29,264.19 183.45,264.61 183.61,265.94 183.77,266.88 183.93,267.77 184.09,266.11 184.26,267.46 184.42,264.63 184.58,268.97 184.74,267.91 184.9,267.74 185.06,270.45 185.22,270.21 185.38,271.1 185.54,269.8 185.7,268.89 185.87,265.52 186.03,266.93 186.19,264.06 186.35,261.76 186.51,263.82 186.67,264.18 186.83,261.36 186.99,264.42 187.15,261.92 187.31,264.67 187.48,264.81 187.64,264.29 187.8,264.78 187.96,267.88 188.12,268.11 188.28,269.78 188.44,269.69 188.6,273.07 188.76,271.18 188.92,272.59 189.08,272.84 189.25,273.12 189.41,270.7 189.57,270.99 189.73,266.32 189.89,267.05 190.05,269.16 190.21,266.42 190.37,265.45 190.53,266.48 190.69,263.64 190.86,266.59 191.02,264.28 191.18,265.6 191.34,264.51 191.5,264.15 191.66,266.41 191.82,268.18 191.98,267.45 192.14,268.56 192.3,270.32 192.47,269.31 192.63,272.3 192.79,271.41 192.95,266.92 193.11,267.76 193.27,266.43 193.43,265.32 193.59,267.07 193.75,268.1 193.91,264.73 194.08,265.1 194.24,264.96 194.4,265.09 194.56,264.96 194.72,265.13 194.88,265.21 195.04,264.06 195.2,268.2 195.36,269.72 195.52,272.1 195.69,270.97 195.85,271.8 196.01,274.47 196.17,272.48 196.33,272.52 196.49,269.2 196.65,269.17 196.81,266.6 196.97,264.58 197.13,266.22 197.29,265.32 197.46,262.53 197.62,260.4 197.78,258.33 197.94,256.68 198.1,255.9 198.26,257.23 198.42,257.74 198.58,259.65 198.74,262.12 198.9,264.57 199.07,269.01 199.23,270.58 199.39,269.21 199.55,269.58 199.71,268.75 199.87,267.78 200.03,269.29 200.19,266.8 200.35,266.67 200.51,272.54 200.68,266.97 200.84,259.32 201,263.16 201.16,254.97 201.32,259.22 201.48,256.97 201.64,258.11 201.8,257.88 201.96,262.69 202.12,268.21 202.29,266.89 202.45,267.62 202.61,271.88 202.77,267.41 202.93,265.13 203.09,267.82 203.25,265.37 203.41,266.27 203.57,266.07 203.73,259.18 203.89,253.66 204.06,252.33 204.22,250.81 204.38,244.29 204.54,242.26 204.7,246.5 204.86,247.75 205.02,251.42 205.18,263.63 205.34,262.64 205.5,263.91 205.67,265.26 205.83,269.44 205.99,269.61 206.15,269.53 206.31,277.56 206.47,275.04 206.63,273.59 206.79,270.97 206.95,269.58 207.11,260.4 207.28,253.02 207.44,247.89 207.6,243.83 207.76,249.79 207.92,253.6 208.08,255.61 208.24,255.42 208.4,257.48 208.56,253.3 208.72,254.57 208.89,262.03 209.05,259.25 209.21,267.47 209.37,273.83 209.53,270.66 209.69,267.73 209.85,261.64 210.01,259.21 210.17,256.07 210.33,252.41 210.49,244.73 210.66,253.01 210.82,257.17 210.98,258.91 211.14,258.13 211.3,260.04 211.46,260.51 211.62,267.97 211.78,269.5 211.94,267.93 212.1,279.96 212.27,278.82 212.43,275.9 212.59,264.87 212.75,252.07 212.91,246.2 213.07,248.49 213.23,241.67 213.39,241.78 213.55,247.96 213.71,247.01 213.88,246.7 214.04,244.32 214.2,243.25 214.36,256.58 214.52,260.96 214.68,267.74 214.84,276.91 215,285.35 215.16,284.45 215.32,272.91 215.49,271.77 215.65,259.17 215.81,255.64 215.97,257.45 216.13,257.06 216.29,257.33 216.45,252.8 216.61,253.68 216.77,252.56 216.93,243.15 217.1,256.49 217.26,266.84 217.42,268.76 217.58,277.12 217.74,270.87 217.9,266.13 218.06,261.59 218.22,248.33 218.38,253.64 218.54,253.33 218.7,251.98 218.87,257.71 219.03,255.36 219.19,248.14 219.35,247.78 219.51,249.83 219.67,261.49 219.83,273.3 219.99,277.62 220.15,284.84 220.31,278.19 220.48,276.96 220.64,268.83 220.8,266.03 220.96,266.08 221.12,257.39 221.28,253.74 221.44,241.72 221.6,250.44 221.76,247.19 221.92,240.76 222.09,249.76 222.25,266.02 222.41,269.13 222.57,271.85 222.73,269.83 222.89,263.82 223.05,265.76 223.21,261.98 223.37,270.25 223.53,262.49 223.7,264.13 223.86,253.63 224.02,246.07 224.18,256.17 224.34,251.77 224.5,268.01" fill="none" stroke="#f51010" stroke-width="0.8" stroke-linejoin="round" />
<polyline points="47.59,297.13 47.75,296.88 47.91,297.17 48.07,296.95 48.23,297.44 48.39,297.79 48.55,296.78 48.71,297.94 48.87,298.13 49.03,297.51 49.2,297.78 49.36,298.49 49.52,298.53 49.68,298.39 49.84,298.79 50,298.26 50.16,298.45 50.32,298.43 50.48,298.06 50.64,297.89 50.81,297.36 50.97,297.4 51.13,298.5 51.29,297.56 51.45,298.55 51.61,298.9 51.77,298.24 51.93,298.94 52.09,298.84 52.25,298.32 52.42,299.04 52.58,299.21 52.74,298.83 52.9,298.57 53.06,298.89 53.22,299.7 53.38,299.23 53.54,298.87 53.7,298.26 53.86,298.33 54.02,298.41 54.19,298.5 54.35,299.39 54.51,299.37 54.67,299.61 54.83,300.37 54.99,300.1 55.15,299.97 55.31,300.76 55.47,300.16 55.63,300.33 55.8,300.32 55.96,301.03 56.12,300.53 56.28,299.75 56.44,299.75 56.6,300.17 56.76,299.67 56.92,299.64 57.08,299.97 57.24,299.99 57.41,299.84 57.57,300.5 57.73,300.65 57.89,301.16 58.05,301.21 58.21,300.6 58.37,301.55 58.53,302.18 58.69,302.27 58.85,302.05 59.02,301.71 59.18,302.2 59.34,301.49 59.5,301.92 59.66,301.62 59.82,301.69 59.98,301.85 60.14,302.45 60.3,302.49 60.46,302.32 60.62,303.15 60.79,302.7 60.95,302.78 61.11,302.85 61.27,303.58 61.43,303.87 61.59,303.86 61.75,304.19 61.91,303.84 62.07,303.56 62.23,303.68 62.4,304.38 62.56,304.35 62.72,305.42 62.88,304.6 63.04,305.48 63.2,305.49 63.36,306.37 63.52,306.34 63.68,306.6 63.84,306.95 64.01,308.5 64.17,308.2 64.33,309.09 64.49,309.42 64.65,309.34 64.81,309.74 64.97,309.82 65.13,310.11 65.29,309.88 65.45,309.73 65.62,309.59 65.78,309.66 65.94,309.19 66.1,308.53 66.26,308.1 66.42,308.33 66.58,307.79 66.74,308.4 66.9,308.95 67.06,308.3 67.22,308.89 67.39,308.16 67.55,307.62 67.71,307.9 67.87,307.55 68.03,306.41 68.19,307.06 68.35,306.9 68.51,306.5 68.67,306.81 68.83,306.93 69,306.88 69.16,308.26 69.32,307.04 69.48,308.53 69.64,309.04 69.8,308.84 69.96,309.42 70.12,309.96 70.28,309.72 70.44,310.36 70.61,310.27 70.77,310.73 70.93,310.6 71.09,310.24 71.25,310.45 71.41,310.35 71.57,309.9 71.73,310.13 71.89,310.31 72.05,310.21 72.22,309.99 72.38,310.59 72.54,310.8 72.7,311.25 72.86,311.29 73.02,311.31 73.18,311.53 73.34,311.63 73.5,311.95 73.66,312.06 73.83,311.6 73.99,311.44 74.15,311.26 74.31,311.43 74.47,311.57 74.63,310.8 74.79,310.75 74.95,311.72 75.11,310.95 75.27,311.24 75.43,310.88 75.6,312.06 75.76,312.06 75.92,311.09 76.08,312.08 76.24,311.57 76.4,311.7 76.56,311.63 76.72,311.88 76.88,311.01 77.04,310.21 77.21,310.11 77.37,309.83 77.53,310 77.69,309.54 77.85,309.72 78.01,309.67 78.17,310.92 78.33,310.23 78.49,310.89 78.65,310.27 78.82,310.34 78.98,310.92 79.14,310.46 79.3,310.08 79.46,310.3 79.62,310.08 79.78,310.37 79.94,309.9 80.1,309.69 80.26,308.86 80.43,308.36 80.59,308.49 80.75,308.69 80.91,309.28 81.07,308.7 81.23,309.05 81.39,309.8 81.55,309.82 81.71,309.4 81.87,309.85 82.03,309 82.2,309.84 82.36,310.33 82.52,310.01 82.68,308.95 82.84,309.83 83,308.97 83.16,309.06 83.32,308.68 83.48,309.18 83.64,309.69 83.81,309.36 83.97,309.59 84.13,309.24 84.29,309.74 84.45,309.01 84.61,310.09 84.77,310.06 84.93,310.65 85.09,310.33 85.25,310.26 85.42,309.98 85.58,309.42 85.74,309.83 85.9,309.84 86.06,308.97 86.22,309.6 86.38,309.87 86.54,309.22 86.7,309.49 86.86,311.09 87.03,310.35 87.19,310.17 87.35,310.55 87.51,311.55 87.67,311.05 87.83,312.29 87.99,312.23 88.15,312.1 88.31,312.12 88.47,311.74 88.63,311.67 88.8,312.2 88.96,311.68 89.12,312.64 89.28,312.46 89.44,311.69 89.6,312.33 89.76,312.01 89.92,312.86 90.08,313.11 90.24,313.43 90.41,313.67 90.57,314.15 90.73,314.13 90.89,313.87 91.05,313.62 91.21,314.08 91.37,313.91 91.53,313.91 91.69,314.89 91.85,315.15 92.02,313.6 92.18,313.51 92.34,313.85 92.5,313.64 92.66,314.25 92.82,314.61 92.98,314.12 93.14,314.95 93.3,314.18 93.46,314.77 93.63,314.26 93.79,313.33 93.95,313.13 94.11,313.87 94.27,313.12 94.43,313.84 94.59,313.38 94.75,312.63 94.91,311.94 95.07,312.31 95.24,311.76 95.4,311.72 95.56,312.41 95.72,312.11 95.88,311.61 96.04,312.43 96.2,312.19 96.36,312 96.52,312.59 96.68,311.67 96.84,311.53 97.01,311.47 97.17,311.53 97.33,312.13 97.49,311.93 97.65,311.69 97.81,311.43 97.97,311.17 98.13,310.33 98.29,310.21 98.45,311.29 98.62,310.8 98.78,311.78 98.94,311.35 99.1,311.54 99.26,311.71 99.42,310.9 99.58,310.86 99.74,311.03 99.9,310.98 100.06,310.97 100.23,310.27 100.39,310.08 100.55,309.35 100.71,309.75 100.87,309.05 101.03,309.01 101.19,308.9 101.35,309.13 101.51,309.64 101.67,310.09 101.84,310.63 102,309.88 102.16,309.35 102.32,309.36 102.48,310.37 102.64,310.3 102.8,310.17 102.96,310.19 103.12,309.3 103.28,309.02 103.44,309.02 103.61,308.69 103.77,309.4 103.93,309.2 104.09,309.25 104.25,308.49 104.41,309.6 104.57,308.99 104.73,308.63 104.89,309.16 105.05,308.99 105.22,309.84 105.38,309.46 105.54,309.2 105.7,308.42 105.86,308.82 106.02,308.27 106.18,308.75 106.34,308.69 106.5,308.17 106.66,308.68 106.83,308.41 106.99,308.77 107.15,308.17 107.31,308.16 107.47,309.69 107.63,308.71 107.79,309.6 107.95,309.79 108.11,310.13 108.27,309.65 108.44,310.2 108.6,309.69 108.76,309.38 108.92,308.67 109.08,308.27 109.24,308.3 109.4,308.44 109.56,308.82 109.72,309.28 109.88,308.27 110.04,308.43 110.21,308.52 110.37,308.35 110.53,309.44 110.69,309.78 110.85,310.22 111.01,309.65 111.17,309.8 111.33,309.92 111.49,309.25 111.65,309.79 111.82,309.52 111.98,308.37 112.14,308.85 112.3,308.65 112.46,308.57 112.62,308.49 112.78,308.67 112.94,308.15 113.1,309.15 113.26,309.07 113.43,309.72 113.59,309.86 113.75,310.23 113.91,310.23 114.07,308.56 114.23,308.43 114.39,309.21 114.55,308.99 114.71,308.65 114.87,309.28 115.04,308.18 115.2,309.01 115.36,308.79 115.52,309.8 115.68,308.2 115.84,309.13 116,308.81 116.16,310.3 116.32,309.88 116.48,310.02 116.65,309.89 116.81,308.94 116.97,308.78 117.13,309.13 117.29,309.87 117.45,309.15 117.61,308.7 117.77,308.74 117.93,308.43 118.09,308.26 118.25,308.86 118.42,308.48 118.58,308.28 118.74,309.59 118.9,309.31 119.06,309.08 119.22,310.11 119.38,309.54 119.54,310.28 119.7,309.85 119.86,310.3 120.03,310.11 120.19,309.86 120.35,309.57 120.51,309.29 120.67,310.07 120.83,308.34 120.99,309.04 121.15,309.62 121.31,309.68 121.47,309.5 121.64,310.26 121.8,310.05 121.96,310.07 122.12,309.6 122.28,310.21 122.44,309.71 122.6,309.79 122.76,309.94 122.92,309.09 123.08,309.32 123.25,309.5 123.41,308.52 123.57,308.44 123.73,308.55 123.89,308.6 124.05,308.42 124.21,309.06 124.37,309.12 124.53,309.56 124.69,308.97 124.85,309.77 125.02,310.34 125.18,310.57 125.34,310.12 125.5,310.03 125.66,310.59 125.82,310.24 125.98,309.28 126.14,308.83 126.3,309.79 126.46,309.37 126.63,308.88 126.79,309.59 126.95,309.6 127.11,309.63 127.27,309.98 127.43,309.4 127.59,309.42 127.75,310.42 127.91,309.92 128.07,309.55 128.24,309.9 128.4,309.35 128.56,309.75 128.72,308.59 128.88,309.42 129.04,308.55 129.2,309.32 129.36,309.57 129.52,309.76 129.68,309.6 129.85,309.69 130.01,309.88 130.17,309.91 130.33,309.74 130.49,309.95 130.65,310.74 130.81,310.12 130.97,310.75 131.13,310.75 131.29,310.49 131.45,309.38 131.62,310.17 131.78,309.99 131.94,308.68 132.1,308.64 132.26,308.64 132.42,309.7 132.58,308.95 132.74,308.65 132.9,309.21 133.06,310.36 133.23,310.12 133.39,310.82 133.55,310.83 133.71,309.28 133.87,309.81 134.03,310.65 134.19,310.55 134.35,309.6 134.51,310.1 134.67,309.53 134.84,310.03 135,309.68 135.16,309.35 135.32,309.92 135.48,310.45 135.64,310.36 135.8,310.44 135.96,310.48 136.12,310.54 136.28,310.5 136.45,310.05 136.61,310.49 136.77,309.22 136.93,308.81 137.09,309.51 137.25,309.51 137.41,308.87 137.57,308.96 137.73,308.98 137.89,309.04 138.06,309.37 138.22,309.82 138.38,309.34 138.54,309.5 138.7,310.89 138.86,310.61 139.02,310.51 139.18,310.77 139.34,310.88 139.5,310.68 139.66,311.01 139.83,310.47 139.99,310.44 140.15,309.04 140.31,309.28 140.47,309.6 140.63,309.26 140.79,308.86 140.95,308.86 141.11,309.62 141.27,310.01 141.44,310.79 141.6,310.29 141.76,310.18 141.92,310.42 142.08,309.24 142.24,311.05 142.4,310.25 142.56,309.94 142.72,309.77 142.88,308.91 143.05,310.17 143.21,309.68 143.37,309.26 143.53,309.41 143.69,309.94 143.85,310.4 144.01,309.68 144.17,310.84 144.33,310.64 144.49,309.63 144.66,309.52 144.82,310.01 144.98,310.92 145.14,310.86 145.3,310.7 145.46,310.51 145.62,309.79 145.78,308.66 145.94,308.98 146.1,309.48 146.26,309.59 146.43,309.96 146.59,308.88 146.75,310.63 146.91,309.51 147.07,310.47 147.23,310.39 147.39,310.78 147.55,309.68 147.71,310.34 147.87,308.85 148.04,310.7 148.2,310.52 148.36,309.42 148.52,309.28 148.68,309.67 148.84,310.62 149,308.86 149.16,309.37 149.32,309.47 149.48,309.99 149.65,309.33 149.81,310.02 149.97,309.79 150.13,310.04 150.29,309.35 150.45,310.28 150.61,310.1 150.77,309.12 150.93,309.38 151.09,309.33 151.26,309.37 151.42,308.71 151.58,309.64 151.74,309.08 151.9,308.35 152.06,309.17 152.22,309.86 152.38,310.2 152.54,309.64 152.7,310.62 152.87,310.85 153.03,310.66 153.19,310.82 153.35,309.59 153.51,310.7 153.67,308.81 153.83,309.98 153.99,309.41 154.15,309.04 154.31,309.24 154.47,308.87 154.64,309.73 154.8,310.4 154.96,309.23 155.12,310.19 155.28,309.75 155.44,309.09 155.6,309.89 155.76,310.16 155.92,310.41 156.08,309.81 156.25,309.62 156.41,310.37 156.57,309.26 156.73,310.06 156.89,309.29 157.05,309.62 157.21,308.7 157.37,308.71 157.53,309.21 157.69,309.39 157.86,309.27 158.02,308.93 158.18,309.27 158.34,309.86 158.5,309.71 158.66,308.83 158.82,310.58 158.98,309.16 159.14,309.93 159.3,308.51 159.47,309.51 159.63,309.13 159.79,309.53 159.95,308.72 160.11,308.2 160.27,307.93 160.43,309.7 160.59,309.46 160.75,307.9 160.91,309.01 161.07,309.65 161.24,309.32 161.4,310.67 161.56,308.63 161.72,309.53 161.88,310.51 162.04,308.85 162.2,309.8 162.36,309.84 162.52,308.67 162.68,308.61 162.85,309.12 163.01,308.98 163.17,309.94 163.33,310.16 163.49,308.79 163.65,308.53 163.81,309.04 163.97,309.02 164.13,309.49 164.29,309.34 164.46,309.84 164.62,308.09 164.78,309.4 164.94,308.57 165.1,308.61 165.26,309.36 165.42,307.57 165.58,308.83 165.74,309.28 165.9,308.93 166.07,309.73 166.23,309.21 166.39,309.88 166.55,308.94 166.71,309.33 166.87,310.33 167.03,308.81 167.19,309.29 167.35,309.93 167.51,308.69 167.67,308.32 167.84,307.3 168,308.77 168.16,307.64 168.32,308.34 168.48,307.97 168.64,308.61 168.8,308.5 168.96,308.16 169.12,309.34 169.28,310.09 169.45,308.88 169.61,309.32 169.77,309.02 169.93,308.55 170.09,308.92 170.25,307.73 170.41,308.36 170.57,308.17 170.73,307.71 170.89,307.95 171.06,308.48 171.22,308.37 171.38,308.96 171.54,308.86 171.7,308.43 171.86,308.07 172.02,309.08 172.18,308.33 172.34,307.59 172.5,307.29 172.67,308.45 172.83,307.43 172.99,307.46 173.15,307.17 173.31,307.09 173.47,307.32 173.63,307.14 173.79,307.57 173.95,307.87 174.11,307.57 174.28,307.55 174.44,307.31 174.6,308.23 174.76,308.25 174.92,307.92 175.08,309.53 175.24,308.88 175.4,308.07 175.56,308.19 175.72,308.76 175.88,307.27 176.05,307.94 176.21,308.48 176.37,306.37 176.53,308.33 176.69,307.34 176.85,307.86 177.01,307.52 177.17,307.51 177.33,308.77 177.49,308.4 177.66,308.37 177.82,308.79 177.98,306.99 178.14,307.5 178.3,307.73 178.46,307.97 178.62,307.7 178.78,307.26 178.94,307.52 179.1,306.13 179.27,308.86 179.43,308.77 179.59,307.8 179.75,309.33 179.91,308.6 180.07,309.27 180.23,308.35 180.39,308.25 180.55,307.31 180.71,307.35 180.88,306.92 181.04,307.27 181.2,306.61 181.36,306.63 181.52,306.96 181.68,307.01 181.84,306.76 182,305.71 182.16,308.12 182.32,306.76 182.48,307.95 182.65,307.16 182.81,307.66 182.97,308.35 183.13,307.75 183.29,308.97 183.45,307.68 183.61,307.56 183.77,308.92 183.93,306.77 184.09,307.03 184.26,306.38 184.42,307.36 184.58,305.91 184.74,306.26 184.9,307.13 185.06,308.2 185.22,307.01 185.38,306.59 185.54,307.11 185.7,306.56 185.87,307.77 186.03,307.22 186.19,306.96 186.35,306.84 186.51,305.11 186.67,305.53 186.83,305.8 186.99,305.04 187.15,306.17 187.31,305.47 187.48,305.66 187.64,307.07 187.8,307.22 187.96,307.86 188.12,307.19 188.28,308.04 188.44,306.45 188.6,307.52 188.76,308.2 188.92,308.38 189.08,305.52 189.25,305.38 189.41,305.42 189.57,305.28 189.73,305.25 189.89,305.9 190.05,304.63 190.21,305.66 190.37,306.98 190.53,306.38 190.69,308.05 190.86,305.75 191.02,306.05 191.18,305.56 191.34,305.36 191.5,307.44 191.66,305.97 191.82,304.99 191.98,304.77 192.14,305.71 192.3,304.77 192.47,305.26 192.63,304.76 192.79,306.01 192.95,306.23 193.11,306.56 193.27,306.69 193.43,307.4 193.59,307.46 193.75,307 193.91,306.96 194.08,305.8 194.24,305.33 194.4,305.05 194.56,306.04 194.72,304.34 194.88,303.93 195.04,305.87 195.2,305.68 195.36,305.47 195.52,305.53 195.69,305.06 195.85,306.01 196.01,305.48 196.17,307.47 196.33,306.94 196.49,307.35 196.65,307.57 196.81,305.44 196.97,305.96 197.13,305.3 197.29,305.98 197.46,305.04 197.62,305.02 197.78,305.5 197.94,306.7 198.1,304.28 198.26,304.49 198.42,305.27 198.58,305.68 198.74,306.2 198.9,306.34 199.07,307.33 199.23,306.2 199.39,305.53 199.55,306.11 199.71,306.31 199.87,303.78 200.03,304.79 200.19,305.5 200.35,305.48 200.51,307.29 200.68,306.22 200.84,305.44 201,304.56 201.16,308.06 201.32,307.55 201.48,305.4 201.64,306.55 201.8,306.62 201.96,305.7 202.12,306.76 202.29,306.7 202.45,305.72 202.61,305.3 202.77,306.66 202.93,303.91 203.09,306.42 203.25,305.3 203.41,303.93 203.57,305.81 203.73,305.21 203.89,307.17 204.06,306.71 204.22,307.11 204.38,306.78 204.54,305.81 204.7,304.88 204.86,305.82 205.02,305.14 205.18,306.91 205.34,304.61 205.5,305.06 205.67,304.04 205.83,305.84 205.99,306.02 206.15,304.98 206.31,306.18 206.47,306.95 206.63,307.79 206.79,307.16 206.95,306.55 207.11,306.33 207.28,307.65 207.44,307.37 207.6,306.29 207.76,307.26 207.92,304.54 208.08,304.87 208.24,304.71 208.4,307.12 208.56,306.74 208.72,306.73 208.89,306.75 209.05,307.61 209.21,306.36 209.37,306.87 209.53,307.66 209.69,308.9 209.85,306.79 210.01,308.59 210.17,307.37 210.33,308 210.49,306.58 210.66,305.28 210.82,305.5 210.98,304.82 211.14,306.23 211.3,304.29 211.46,308.3 211.62,306.9 211.78,305.35 211.94,306.85 212.1,307.46 212.27,309.15 212.43,306.43 212.59,309.18 212.75,306.57 212.91,306.24 213.07,304.92 213.23,304.37 213.39,306.35 213.55,306.75 213.71,306.55 213.88,308.27 214.04,305.7 214.2,307.16 214.36,306.91 214.52,308.85 214.68,308.27 214.84,309.25 215,309.01 215.16,309.25 215.32,306.72 215.49,307.7 215.65,309.07 215.81,305.16 215.97,306.01 216.13,306.55 216.29,304.21 216.45,305.31 216.61,306.59 216.77,305.93 216.93,305.35 217.1,306.82 217.26,306.05 217.42,306.85 217.58,309.06 217.74,307.88 217.9,306.72 218.06,307.45 218.22,307.27 218.38,305.72 218.54,306.19 218.7,308.15 218.87,306.91 219.03,306.44 219.19,305.99 219.35,306.92 219.51,305.19 219.67,308.55 219.83,309.21 219.99,307.96 220.15,309.2 220.31,308.52 220.48,306.02 220.64,307.81 220.8,307.01 220.96,304.61 221.12,305.07 221.28,305.1 221.44,304.44 221.6,305.28 221.76,304.36 221.92,305.66 222.09,303.84 222.25,306.83 222.41,308.56 222.57,308.48 222.73,308.25 222.89,309.18 223.05,308.83 223.21,305.96 223.37,309.17 223.53,307.92 223.7,305.36 223.86,303.93 224.02,306.17 224.18,303.72 224.34,305.17 224.5,303.71" fill="none" stroke="#10e810" stroke-width="1.1" stroke-linejoin="round" />
</g>
<rect x="31" y="175" width="193.5" height="150" fill="none" stroke="#555" stroke-width="1.3"/>
<path d="M31 325v-3.5M31 175v3.5M58.64 325v-3.5M58.64 175v3.5M86.29 325v-3.5M86.29 175v3.5M113.93 325v-3.5M113.93 175v3.5M141.57 325v-3.5M141.57 175v3.5M169.21 325v-3.5M169.21 175v3.5M196.86 325v-3.5M196.86 175v3.5M224.5 325v-3.5M224.5 175v3.5M44.82 325v-2M44.82 175v2M72.46 325v-2M72.46 175v2M100.11 325v-2M100.11 175v2M127.75 325v-2M127.75 175v2M155.39 325v-2M155.39 175v2M183.04 325v-2M183.04 175v2M210.68 325v-2M210.68 175v2M31 301.3h3.5M31 261.85h3.5M31 222.4h3.5M31 182.95h3.5M31 321.03h2M31 281.57h2M31 242.12h2M31 202.68h2M224.5 301.3h-3.5M224.5 261.85h-3.5M224.5 222.4h-3.5M224.5 182.95h-3.5M224.5 321.03h-2M224.5 281.57h-2M224.5 242.12h-2M224.5 202.68h-2" stroke="#555" stroke-width="1.0" fill="none"/>
<text transform="translate(27.4 304.3) scale(0.93 1)" font-size="8.7" text-anchor="end" fill="#383838">0.0</text>
<text transform="translate(27.4 264.85) scale(0.93 1)" font-size="8.7" text-anchor="end" fill="#383838">0.5</text>
<text transform="translate(27.4 225.4) scale(0.93 1)" font-size="8.7" text-anchor="end" fill="#383838">1.0</text>
<text transform="translate(27.4 185.95) scale(0.93 1)" font-size="8.7" text-anchor="end" fill="#383838">1.5</text>
<text transform="translate(31 336.7) scale(0.93 1)" font-size="8.7" text-anchor="middle" fill="#383838">0</text>
<text transform="translate(58.64 336.7) scale(0.93 1)" font-size="8.7" text-anchor="middle" fill="#383838">5</text>
<text transform="translate(86.29 336.7) scale(0.93 1)" font-size="8.7" text-anchor="middle" fill="#383838">10</text>
<text transform="translate(113.93 336.7) scale(0.93 1)" font-size="8.7" text-anchor="middle" fill="#383838">15</text>
<text transform="translate(141.57 336.7) scale(0.93 1)" font-size="8.7" text-anchor="middle" fill="#383838">20</text>
<text transform="translate(169.21 336.7) scale(0.93 1)" font-size="8.7" text-anchor="middle" fill="#383838">25</text>
<text transform="translate(196.86 336.7) scale(0.93 1)" font-size="8.7" text-anchor="middle" fill="#383838">30</text>
<text transform="translate(224.5 336.7) scale(0.93 1)" font-size="8.7" text-anchor="middle" fill="#383838">35</text>
<path d="M114.2 207V330" stroke="#333" stroke-width="0.9" stroke-dasharray="3.2 2.4"/>
<path d="M114.2 191.5V203" stroke="#111" stroke-width="0.9"/>
<path d="M111.9 201.8L116.5 201.8L114.2 206.6Z" fill="#111"/>
<text transform="translate(90.3 191.1) scale(1.1 1)" font-size="11" fill="#222"><tspan font-style="italic">B</tspan><tspan font-size="7.8" dy="3.2">c</tspan><tspan dy="-3.2"> ~ 15 T</tspan></text>
<text transform="translate(13.5 79.3) rotate(-90)" font-size="13.1" text-anchor="middle" fill="#111" ><tspan font-style="italic">&#963;</tspan> (x10<tspan font-size="9" dy="-5">6</tspan><tspan dy="5"> &#937;</tspan><tspan font-size="9" dy="-5">-1</tspan><tspan dy="5">m</tspan><tspan font-size="9" dy="-5">-1</tspan><tspan dy="5">)</tspan></text>
<text transform="translate(12.3 251) rotate(-90)" font-size="12.4" text-anchor="middle" fill="#111" >d<tspan font-style="italic">&#963;</tspan>/d(<tspan font-style="italic">&#956;</tspan><tspan font-size="9" dy="3">0</tspan><tspan font-style="italic" dy="-3">H</tspan>) (x10<tspan font-size="9" dy="-5">6</tspan><tspan dy="5"> &#937;</tspan><tspan font-size="9" dy="-5">-1</tspan><tspan dy="5">m</tspan><tspan font-size="9" dy="-5">-1</tspan><tspan dy="5">T</tspan><tspan font-size="9" dy="-5">-1</tspan><tspan dy="5">)</tspan></text>
<text x="130" y="353.6" font-size="13.2" text-anchor="middle" fill="#222"><tspan font-style="italic">&#956;</tspan><tspan font-size="9.2" dy="3.2">0</tspan><tspan font-style="italic" dy="-3.2">H</tspan> (T)</text>
<text x="28.8" y="11.2" font-size="12.5" font-weight="bold" fill="#000">a</text>
<rect x="260.5" y="12.5" width="191.9" height="139.6" fill="none" stroke="#555" stroke-width="1.3"/>
<path d="M260.5 152.1v-3.5M260.5 12.5v3.5M308.48 152.1v-3.5M308.48 12.5v3.5M356.45 152.1v-3.5M356.45 12.5v3.5M404.42 152.1v-3.5M404.42 12.5v3.5M452.4 152.1v-3.5M452.4 12.5v3.5M284.49 152.1v-2M284.49 12.5v2M332.46 152.1v-2M332.46 12.5v2M380.44 152.1v-2M380.44 12.5v2M428.41 152.1v-2M428.41 12.5v2M260.5 152.1h3.5M260.5 105.57h3.5M260.5 59.03h3.5M260.5 12.5h3.5M260.5 128.83h2M260.5 82.3h2M260.5 35.77h2M452.4 152.1h-3.5M452.4 105.57h-3.5M452.4 59.03h-3.5M452.4 12.5h-3.5M452.4 128.83h-2M452.4 82.3h-2M452.4 35.77h-2" stroke="#555" stroke-width="1.0" fill="none"/>
<clipPath id="cbt"><rect x="258.5" y="9.5" width="194.89999999999998" height="144.6"/></clipPath>
<g clip-path="url(#cbt)">
<polyline points="264.96,84.63 266.45,102.77 267.94,115.8 269.42,92.07 270.91,73.46 272.4,86.95 273.89,61.36 275.37,46.93 276.86,119.99 278.35,131.16 279.83,138.14 281.32,126.51 282.81,115.8 284.3,139.91 285.78,126.04 287.27,143.11 288.76,139.18 290.24,139.17 291.73,146.16 293.22,124.18 294.71,130.5 296.19,137 297.68,135.73 299.17,136.9 300.66,136.55 302.14,132.94 303.63,138.84 305.12,145.39 306.6,138.2 308.09,130.69 309.58,137.27 311.07,139.58 312.55,143.99 314.04,148.05 315.53,142.8 317.01,140.98 318.5,140.01 319.99,140.74 321.48,141.57 322.96,151.32 324.45,145.68 325.94,143.95 327.43,143.77 328.91,148.39 330.4,138.93 331.89,147.83 333.37,136.74 334.86,140.6 336.35,146.2 337.84,144.73 339.32,145.98 340.81,142.37 342.3,148.76 343.78,144.28 345.27,141.35 346.76,144.07 348.25,142.55 349.73,144.42 351.22,135.35 352.71,140.73 354.2,142.35 355.68,140.59 357.17,141.07 358.66,143.94 360.14,144.72 361.63,142.24 363.12,142.38 364.61,145.66 366.09,142.87 367.58,144.96 369.07,139.97 370.55,146.51 372.04,144.68 373.53,140.99 375.02,144.19 376.5,151.28 377.99,145.76 379.48,139.57 380.97,139.29 382.45,142.88 383.94,142.38 385.43,138.62 386.91,128.83 388.4,134.89 389.89,145.36 391.38,126.51 392.86,128.88 394.35,137.4 395.84,129.35 397.32,128.47 398.81,140.06 400.3,136.23 401.79,126.51 403.27,129.6 404.76,119.99 406.25,117.2 407.74,141.53 409.22,122.1 410.71,144.12 412.2,130.61 413.68,138.82 415.17,146.53 416.66,148.2 418.15,145.82 419.63,148 421.12,134.88 422.61,138.91 424.09,143.48 425.58,145.86 427.07,131.16 428.56,139.74 430.04,143.46 431.53,151.89 433.02,127.44 434.51,146.05 435.99,133.55 437.48,133.85 438.97,136.08 440.45,146.56 441.94,138.67 443.43,139.91 444.92,147.75 446.4,146.52 447.89,143.65 449.38,143.25 450.86,141.03 452.35,141.63 453.84,141.82 455.33,145.68" fill="none" stroke="#444" stroke-width="0.5" stroke-linejoin="round" />
<path d="M263.51 83.18h2.9v2.9h-2.9zM265 101.32h2.9v2.9h-2.9zM266.49 114.35h2.9v2.9h-2.9zM267.97 90.62h2.9v2.9h-2.9zM269.46 72.01h2.9v2.9h-2.9zM270.95 85.5h2.9v2.9h-2.9zM272.44 59.91h2.9v2.9h-2.9zM273.92 45.48h2.9v2.9h-2.9zM275.41 118.54h2.9v2.9h-2.9zM276.9 129.71h2.9v2.9h-2.9zM278.38 136.69h2.9v2.9h-2.9zM279.87 125.06h2.9v2.9h-2.9zM281.36 114.35h2.9v2.9h-2.9zM282.85 138.46h2.9v2.9h-2.9zM284.33 124.59h2.9v2.9h-2.9zM285.82 141.66h2.9v2.9h-2.9zM287.31 137.73h2.9v2.9h-2.9zM288.79 137.72h2.9v2.9h-2.9zM290.28 144.71h2.9v2.9h-2.9zM291.77 122.73h2.9v2.9h-2.9zM293.26 129.05h2.9v2.9h-2.9zM294.74 135.55h2.9v2.9h-2.9zM296.23 134.28h2.9v2.9h-2.9zM297.72 135.45h2.9v2.9h-2.9zM299.21 135.1h2.9v2.9h-2.9zM300.69 131.49h2.9v2.9h-2.9zM302.18 137.39h2.9v2.9h-2.9zM303.67 143.94h2.9v2.9h-2.9zM305.15 136.75h2.9v2.9h-2.9zM306.64 129.24h2.9v2.9h-2.9zM308.13 135.82h2.9v2.9h-2.9zM309.62 138.13h2.9v2.9h-2.9zM311.1 142.54h2.9v2.9h-2.9zM312.59 146.6h2.9v2.9h-2.9zM314.08 141.35h2.9v2.9h-2.9zM315.56 139.53h2.9v2.9h-2.9zM317.05 138.56h2.9v2.9h-2.9zM318.54 139.29h2.9v2.9h-2.9zM320.03 140.12h2.9v2.9h-2.9zM321.51 149.87h2.9v2.9h-2.9zM323 144.23h2.9v2.9h-2.9zM324.49 142.5h2.9v2.9h-2.9zM325.98 142.32h2.9v2.9h-2.9zM327.46 146.94h2.9v2.9h-2.9zM328.95 137.48h2.9v2.9h-2.9zM330.44 146.38h2.9v2.9h-2.9zM331.92 135.29h2.9v2.9h-2.9zM333.41 139.15h2.9v2.9h-2.9zM334.9 144.75h2.9v2.9h-2.9zM336.39 143.28h2.9v2.9h-2.9zM337.87 144.53h2.9v2.9h-2.9zM339.36 140.92h2.9v2.9h-2.9zM340.85 147.31h2.9v2.9h-2.9zM342.33 142.83h2.9v2.9h-2.9zM343.82 139.9h2.9v2.9h-2.9zM345.31 142.62h2.9v2.9h-2.9zM346.8 141.1h2.9v2.9h-2.9zM348.28 142.97h2.9v2.9h-2.9zM349.77 133.9h2.9v2.9h-2.9zM351.26 139.28h2.9v2.9h-2.9zM352.75 140.9h2.9v2.9h-2.9zM354.23 139.14h2.9v2.9h-2.9zM355.72 139.62h2.9v2.9h-2.9zM357.21 142.49h2.9v2.9h-2.9zM358.69 143.27h2.9v2.9h-2.9zM360.18 140.79h2.9v2.9h-2.9zM361.67 140.93h2.9v2.9h-2.9zM363.16 144.21h2.9v2.9h-2.9zM364.64 141.42h2.9v2.9h-2.9zM366.13 143.51h2.9v2.9h-2.9zM367.62 138.52h2.9v2.9h-2.9zM369.1 145.06h2.9v2.9h-2.9zM370.59 143.23h2.9v2.9h-2.9zM372.08 139.54h2.9v2.9h-2.9zM373.57 142.74h2.9v2.9h-2.9zM375.05 149.83h2.9v2.9h-2.9zM376.54 144.31h2.9v2.9h-2.9zM378.03 138.12h2.9v2.9h-2.9zM379.52 137.84h2.9v2.9h-2.9zM381 141.43h2.9v2.9h-2.9zM382.49 140.93h2.9v2.9h-2.9zM383.98 137.17h2.9v2.9h-2.9zM385.46 127.38h2.9v2.9h-2.9zM386.95 133.44h2.9v2.9h-2.9zM388.44 143.91h2.9v2.9h-2.9zM389.93 125.06h2.9v2.9h-2.9zM391.41 127.43h2.9v2.9h-2.9zM392.9 135.95h2.9v2.9h-2.9zM394.39 127.9h2.9v2.9h-2.9zM395.87 127.02h2.9v2.9h-2.9zM397.36 138.61h2.9v2.9h-2.9zM398.85 134.78h2.9v2.9h-2.9zM400.34 125.06h2.9v2.9h-2.9zM401.82 128.15h2.9v2.9h-2.9zM403.31 118.54h2.9v2.9h-2.9zM404.8 115.75h2.9v2.9h-2.9zM406.29 140.08h2.9v2.9h-2.9zM407.77 120.65h2.9v2.9h-2.9zM409.26 142.67h2.9v2.9h-2.9zM410.75 129.16h2.9v2.9h-2.9zM412.23 137.37h2.9v2.9h-2.9zM413.72 145.08h2.9v2.9h-2.9zM415.21 146.75h2.9v2.9h-2.9zM416.7 144.37h2.9v2.9h-2.9zM418.18 146.55h2.9v2.9h-2.9zM419.67 133.43h2.9v2.9h-2.9zM421.16 137.46h2.9v2.9h-2.9zM422.64 142.03h2.9v2.9h-2.9zM424.13 144.41h2.9v2.9h-2.9zM425.62 129.71h2.9v2.9h-2.9zM427.11 138.29h2.9v2.9h-2.9zM428.59 142.01h2.9v2.9h-2.9zM430.08 150.44h2.9v2.9h-2.9zM431.57 125.99h2.9v2.9h-2.9zM433.06 144.6h2.9v2.9h-2.9zM434.54 132.1h2.9v2.9h-2.9zM436.03 132.4h2.9v2.9h-2.9zM437.52 134.63h2.9v2.9h-2.9zM439 145.11h2.9v2.9h-2.9zM440.49 137.22h2.9v2.9h-2.9zM441.98 138.46h2.9v2.9h-2.9zM443.47 146.3h2.9v2.9h-2.9zM444.95 145.07h2.9v2.9h-2.9zM446.44 142.2h2.9v2.9h-2.9zM447.93 141.8h2.9v2.9h-2.9zM449.41 139.58h2.9v2.9h-2.9zM450.9 140.18h2.9v2.9h-2.9zM452.39 140.37h2.9v2.9h-2.9zM453.88 144.23h2.9v2.9h-2.9z" fill="#000"/>
<polyline points="264.96,83.7 266.45,100.45 267.94,114.87 269.42,91.61 270.91,83.7 272.4,86.49 273.89,72.99 275.37,55.78 276.86,139.54 278.35,133.49 279.83,130.69 281.32,137.21 282.81,114.87 284.3,125.73 285.78,126.97 287.27,133.47 288.76,136.63 290.24,142.41 291.73,145.49 293.22,123.25 294.71,134.99 296.19,131.11 297.68,147.22 299.17,138.94 300.66,131.16 302.14,151.53 303.63,144.86 305.12,146.71 306.6,145.4 308.09,142.98 309.58,142.71 311.07,140.24 312.55,147.72 314.04,137.28 315.53,140.08 317.01,141.56 318.5,137.04 319.99,142.89 321.48,144.5 322.96,139.73 324.45,139.25 325.94,140.26 327.43,138.95 328.91,147.07 330.4,138.58 331.89,145.27 333.37,141.68 334.86,151.73 336.35,142.84 337.84,151.91 339.32,144.8 340.81,138.8 342.3,143.32 343.78,139.52 345.27,143.49 346.76,144.63 348.25,140.78 349.73,145.74 351.22,141 352.71,145.87 354.2,145.04 355.68,141.73 357.17,151.57 358.66,141.81 360.14,147.2 361.63,146.99 363.12,147.84 364.61,140.97 366.09,141.28 367.58,151.49 369.07,140.53 370.55,149.46 372.04,141.45 373.53,149.04 375.02,147.23 376.5,148.69 377.99,147.18 379.48,148.61 380.97,138.4 382.45,145.04 383.94,140.86 385.43,139.06 386.91,142.28 388.4,139.73 389.89,137.13 391.38,151.49 392.86,139.11 394.35,141.45 395.84,132.99 397.32,151.83 398.81,133.02 400.3,130.26 401.79,128.85 403.27,127.44 404.76,132.64 406.25,123.57 407.74,124.44 409.22,122.78 410.71,127.29 412.2,129.3 413.68,140.78 415.17,151.85 416.66,136.57 418.15,135.85 419.63,139.6 421.12,145.08 422.61,147.26 424.09,145.67 425.58,146.91 427.07,143.6 428.56,139.84 430.04,138.73 431.53,144.36 433.02,141.9 434.51,139.15 435.99,143.93 437.48,146.22 438.97,146.83 440.45,147.94 441.94,145.29 443.43,138.76 444.92,151.2 446.4,147.76 447.89,144.18 449.38,142.78 450.86,143.67 452.35,148.7 453.84,146.1 455.33,145.52" fill="none" stroke="#d02020" stroke-width="0.5" stroke-linejoin="round" />
<path d="M263.51 82.25h2.9v2.9h-2.9zM265 99h2.9v2.9h-2.9zM266.49 113.42h2.9v2.9h-2.9zM267.97 90.16h2.9v2.9h-2.9zM269.46 82.25h2.9v2.9h-2.9zM270.95 85.04h2.9v2.9h-2.9zM272.44 71.54h2.9v2.9h-2.9zM273.92 54.33h2.9v2.9h-2.9zM275.41 138.09h2.9v2.9h-2.9zM276.9 132.04h2.9v2.9h-2.9zM278.38 129.24h2.9v2.9h-2.9zM279.87 135.76h2.9v2.9h-2.9zM281.36 113.42h2.9v2.9h-2.9zM282.85 124.28h2.9v2.9h-2.9zM284.33 125.52h2.9v2.9h-2.9zM285.82 132.02h2.9v2.9h-2.9zM287.31 135.18h2.9v2.9h-2.9zM288.79 140.96h2.9v2.9h-2.9zM290.28 144.04h2.9v2.9h-2.9zM291.77 121.8h2.9v2.9h-2.9zM293.26 133.54h2.9v2.9h-2.9zM294.74 129.66h2.9v2.9h-2.9zM296.23 145.77h2.9v2.9h-2.9zM297.72 137.49h2.9v2.9h-2.9zM299.21 129.71h2.9v2.9h-2.9zM300.69 150.08h2.9v2.9h-2.9zM302.18 143.41h2.9v2.9h-2.9zM303.67 145.26h2.9v2.9h-2.9zM305.15 143.95h2.9v2.9h-2.9zM306.64 141.53h2.9v2.9h-2.9zM308.13 141.26h2.9v2.9h-2.9zM309.62 138.79h2.9v2.9h-2.9zM311.1 146.27h2.9v2.9h-2.9zM312.59 135.83h2.9v2.9h-2.9zM314.08 138.63h2.9v2.9h-2.9zM315.56 140.11h2.9v2.9h-2.9zM317.05 135.59h2.9v2.9h-2.9zM318.54 141.44h2.9v2.9h-2.9zM320.03 143.05h2.9v2.9h-2.9zM321.51 138.28h2.9v2.9h-2.9zM323 137.8h2.9v2.9h-2.9zM324.49 138.81h2.9v2.9h-2.9zM325.98 137.5h2.9v2.9h-2.9zM327.46 145.62h2.9v2.9h-2.9zM328.95 137.13h2.9v2.9h-2.9zM330.44 143.82h2.9v2.9h-2.9zM331.92 140.23h2.9v2.9h-2.9zM333.41 150.28h2.9v2.9h-2.9zM334.9 141.39h2.9v2.9h-2.9zM336.39 150.46h2.9v2.9h-2.9zM337.87 143.35h2.9v2.9h-2.9zM339.36 137.35h2.9v2.9h-2.9zM340.85 141.87h2.9v2.9h-2.9zM342.33 138.07h2.9v2.9h-2.9zM343.82 142.04h2.9v2.9h-2.9zM345.31 143.18h2.9v2.9h-2.9zM346.8 139.33h2.9v2.9h-2.9zM348.28 144.29h2.9v2.9h-2.9zM349.77 139.55h2.9v2.9h-2.9zM351.26 144.42h2.9v2.9h-2.9zM352.75 143.59h2.9v2.9h-2.9zM354.23 140.28h2.9v2.9h-2.9zM355.72 150.12h2.9v2.9h-2.9zM357.21 140.36h2.9v2.9h-2.9zM358.69 145.75h2.9v2.9h-2.9zM360.18 145.54h2.9v2.9h-2.9zM361.67 146.39h2.9v2.9h-2.9zM363.16 139.52h2.9v2.9h-2.9zM364.64 139.83h2.9v2.9h-2.9zM366.13 150.04h2.9v2.9h-2.9zM367.62 139.08h2.9v2.9h-2.9zM369.1 148.01h2.9v2.9h-2.9zM370.59 140h2.9v2.9h-2.9zM372.08 147.59h2.9v2.9h-2.9zM373.57 145.78h2.9v2.9h-2.9zM375.05 147.24h2.9v2.9h-2.9zM376.54 145.73h2.9v2.9h-2.9zM378.03 147.16h2.9v2.9h-2.9zM379.52 136.95h2.9v2.9h-2.9zM381 143.59h2.9v2.9h-2.9zM382.49 139.41h2.9v2.9h-2.9zM383.98 137.61h2.9v2.9h-2.9zM385.46 140.83h2.9v2.9h-2.9zM386.95 138.28h2.9v2.9h-2.9zM388.44 135.68h2.9v2.9h-2.9zM389.93 150.04h2.9v2.9h-2.9zM391.41 137.66h2.9v2.9h-2.9zM392.9 140h2.9v2.9h-2.9zM394.39 131.54h2.9v2.9h-2.9zM395.87 150.38h2.9v2.9h-2.9zM397.36 131.57h2.9v2.9h-2.9zM398.85 128.81h2.9v2.9h-2.9zM400.34 127.4h2.9v2.9h-2.9zM401.82 125.99h2.9v2.9h-2.9zM403.31 131.19h2.9v2.9h-2.9zM404.8 122.12h2.9v2.9h-2.9zM406.29 122.99h2.9v2.9h-2.9zM407.77 121.33h2.9v2.9h-2.9zM409.26 125.84h2.9v2.9h-2.9zM410.75 127.85h2.9v2.9h-2.9zM412.23 139.33h2.9v2.9h-2.9zM413.72 150.4h2.9v2.9h-2.9zM415.21 135.12h2.9v2.9h-2.9zM416.7 134.4h2.9v2.9h-2.9zM418.18 138.15h2.9v2.9h-2.9zM419.67 143.63h2.9v2.9h-2.9zM421.16 145.81h2.9v2.9h-2.9zM422.64 144.22h2.9v2.9h-2.9zM424.13 145.46h2.9v2.9h-2.9zM425.62 142.15h2.9v2.9h-2.9zM427.11 138.39h2.9v2.9h-2.9zM428.59 137.28h2.9v2.9h-2.9zM430.08 142.91h2.9v2.9h-2.9zM431.57 140.45h2.9v2.9h-2.9zM433.06 137.7h2.9v2.9h-2.9zM434.54 142.48h2.9v2.9h-2.9zM436.03 144.77h2.9v2.9h-2.9zM437.52 145.38h2.9v2.9h-2.9zM439 146.49h2.9v2.9h-2.9zM440.49 143.84h2.9v2.9h-2.9zM441.98 137.31h2.9v2.9h-2.9zM443.47 149.75h2.9v2.9h-2.9zM444.95 146.31h2.9v2.9h-2.9zM446.44 142.73h2.9v2.9h-2.9zM447.93 141.33h2.9v2.9h-2.9zM449.41 142.22h2.9v2.9h-2.9zM450.9 147.25h2.9v2.9h-2.9zM452.39 144.65h2.9v2.9h-2.9zM453.88 144.07h2.9v2.9h-2.9z" fill="#ff0000"/>
<polyline points="264.96,121.39 266.45,126.51 267.94,129.76 269.42,124.18 270.91,119.53 272.4,126.51 273.89,125.58 275.37,123.25 276.86,138.14 278.35,145.59 279.83,135.35 281.32,141.86 282.81,138.14 284.3,145.59 285.78,146.52 287.27,140.93 288.76,148.38 290.24,145.12 291.73,147.45 293.22,146.05 294.71,147.91 296.19,146.98 297.68,146.41 299.17,148.25 300.66,146.5 302.14,147.99 303.63,148.56 305.12,148.46 306.6,148.49 308.09,146.96 309.58,146.91 311.07,146.99 312.55,148.52 314.04,148.46 315.53,147.8 317.01,147.34 318.5,147.37 319.99,147.02 321.48,147.25 322.96,147.97 324.45,147.5 325.94,147.32 327.43,148.93 328.91,146.76 330.4,148.01 331.89,147.76 333.37,147.69 334.86,147.63 336.35,149.41 337.84,149.48 339.32,148.9 340.81,149.41 342.3,147.74 343.78,148.55 345.27,149.41 346.76,148.83 348.25,149.45 349.73,147.95 351.22,148.97 352.71,147.75 354.2,148.19 355.68,148.92 357.17,148.65 358.66,147.48 360.14,148.28 361.63,149.13 363.12,149.23 364.61,147.98 366.09,148.62 367.58,148.46 369.07,149.97 370.55,149.21 372.04,150.42 373.53,148.99 375.02,150.45 376.5,148.71 377.99,150.15 379.48,150.37 380.97,150.14 382.45,149.45 383.94,149.27 385.43,149.96 386.91,148.94 388.4,149.01 389.89,150.13 391.38,149.68 392.86,148.17 394.35,149.41 395.84,148.54 397.32,148.93 398.81,149.03 400.3,148.41 401.79,150.78 403.27,149.38 404.76,148.44 406.25,149.42 407.74,150.92 409.22,148.36 410.71,148.93 412.2,149.95 413.68,150.52 415.17,150.98 416.66,148.46 418.15,148.74 419.63,150.73 421.12,150.65 422.61,149.13 424.09,150.74 425.58,149.55 427.07,150.14 428.56,149.56 430.04,149.39 431.53,150.36 433.02,150.37 434.51,150.7 435.99,148.57 437.48,150.03 438.97,151.09 440.45,149.91 441.94,149.48 443.43,148.83 444.92,150.42 446.4,149.15 447.89,149.49 449.38,148.78 450.86,150.45 452.35,150.84 453.84,151.37 455.33,149.86" fill="none" stroke="#30e030" stroke-width="0.5" stroke-linejoin="round" />
<path d="M263.41 121.39a1.55 1.55 0 1 0 3.1 0a1.55 1.55 0 1 0 -3.1 0zM264.9 126.51a1.55 1.55 0 1 0 3.1 0a1.55 1.55 0 1 0 -3.1 0zM266.39 129.76a1.55 1.55 0 1 0 3.1 0a1.55 1.55 0 1 0 -3.1 0zM267.87 124.18a1.55 1.55 0 1 0 3.1 0a1.55 1.55 0 1 0 -3.1 0zM269.36 119.53a1.55 1.55 0 1 0 3.1 0a1.55 1.55 0 1 0 -3.1 0zM270.85 126.51a1.55 1.55 0 1 0 3.1 0a1.55 1.55 0 1 0 -3.1 0zM272.34 125.58a1.55 1.55 0 1 0 3.1 0a1.55 1.55 0 1 0 -3.1 0zM273.82 123.25a1.55 1.55 0 1 0 3.1 0a1.55 1.55 0 1 0 -3.1 0zM275.31 138.14a1.55 1.55 0 1 0 3.1 0a1.55 1.55 0 1 0 -3.1 0zM276.8 145.59a1.55 1.55 0 1 0 3.1 0a1.55 1.55 0 1 0 -3.1 0zM278.28 135.35a1.55 1.55 0 1 0 3.1 0a1.55 1.55 0 1 0 -3.1 0zM279.77 141.86a1.55 1.55 0 1 0 3.1 0a1.55 1.55 0 1 0 -3.1 0zM281.26 138.14a1.55 1.55 0 1 0 3.1 0a1.55 1.55 0 1 0 -3.1 0zM282.75 145.59a1.55 1.55 0 1 0 3.1 0a1.55 1.55 0 1 0 -3.1 0zM284.23 146.52a1.55 1.55 0 1 0 3.1 0a1.55 1.55 0 1 0 -3.1 0zM285.72 140.93a1.55 1.55 0 1 0 3.1 0a1.55 1.55 0 1 0 -3.1 0zM287.21 148.38a1.55 1.55 0 1 0 3.1 0a1.55 1.55 0 1 0 -3.1 0zM288.69 145.12a1.55 1.55 0 1 0 3.1 0a1.55 1.55 0 1 0 -3.1 0zM290.18 147.45a1.55 1.55 0 1 0 3.1 0a1.55 1.55 0 1 0 -3.1 0zM291.67 146.05a1.55 1.55 0 1 0 3.1 0a1.55 1.55 0 1 0 -3.1 0zM293.16 147.91a1.55 1.55 0 1 0 3.1 0a1.55 1.55 0 1 0 -3.1 0zM294.64 146.98a1.55 1.55 0 1 0 3.1 0a1.55 1.55 0 1 0 -3.1 0zM296.13 146.41a1.55 1.55 0 1 0 3.1 0a1.55 1.55 0 1 0 -3.1 0zM297.62 148.25a1.55 1.55 0 1 0 3.1 0a1.55 1.55 0 1 0 -3.1 0zM299.11 146.5a1.55 1.55 0 1 0 3.1 0a1.55 1.55 0 1 0 -3.1 0zM300.59 147.99a1.55 1.55 0 1 0 3.1 0a1.55 1.55 0 1 0 -3.1 0zM302.08 148.56a1.55 1.55 0 1 0 3.1 0a1.55 1.55 0 1 0 -3.1 0zM303.57 148.46a1.55 1.55 0 1 0 3.1 0a1.55 1.55 0 1 0 -3.1 0zM305.05 148.49a1.55 1.55 0 1 0 3.1 0a1.55 1.55 0 1 0 -3.1 0zM306.54 146.96a1.55 1.55 0 1 0 3.1 0a1.55 1.55 0 1 0 -3.1 0zM308.03 146.91a1.55 1.55 0 1 0 3.1 0a1.55 1.55 0 1 0 -3.1 0zM309.52 146.99a1.55 1.55 0 1 0 3.1 0a1.55 1.55 0 1 0 -3.1 0zM311 148.52a1.55 1.55 0 1 0 3.1 0a1.55 1.55 0 1 0 -3.1 0zM312.49 148.46a1.55 1.55 0 1 0 3.1 0a1.55 1.55 0 1 0 -3.1 0zM313.98 147.8a1.55 1.55 0 1 0 3.1 0a1.55 1.55 0 1 0 -3.1 0zM315.46 147.34a1.55 1.55 0 1 0 3.1 0a1.55 1.55 0 1 0 -3.1 0zM316.95 147.37a1.55 1.55 0 1 0 3.1 0a1.55 1.55 0 1 0 -3.1 0zM318.44 147.02a1.55 1.55 0 1 0 3.1 0a1.55 1.55 0 1 0 -3.1 0zM319.93 147.25a1.55 1.55 0 1 0 3.1 0a1.55 1.55 0 1 0 -3.1 0zM321.41 147.97a1.55 1.55 0 1 0 3.1 0a1.55 1.55 0 1 0 -3.1 0zM322.9 147.5a1.55 1.55 0 1 0 3.1 0a1.55 1.55 0 1 0 -3.1 0zM324.39 147.32a1.55 1.55 0 1 0 3.1 0a1.55 1.55 0 1 0 -3.1 0zM325.88 148.93a1.55 1.55 0 1 0 3.1 0a1.55 1.55 0 1 0 -3.1 0zM327.36 146.76a1.55 1.55 0 1 0 3.1 0a1.55 1.55 0 1 0 -3.1 0zM328.85 148.01a1.55 1.55 0 1 0 3.1 0a1.55 1.55 0 1 0 -3.1 0zM330.34 147.76a1.55 1.55 0 1 0 3.1 0a1.55 1.55 0 1 0 -3.1 0zM331.82 147.69a1.55 1.55 0 1 0 3.1 0a1.55 1.55 0 1 0 -3.1 0zM333.31 147.63a1.55 1.55 0 1 0 3.1 0a1.55 1.55 0 1 0 -3.1 0zM334.8 149.41a1.55 1.55 0 1 0 3.1 0a1.55 1.55 0 1 0 -3.1 0zM336.29 149.48a1.55 1.55 0 1 0 3.1 0a1.55 1.55 0 1 0 -3.1 0zM337.77 148.9a1.55 1.55 0 1 0 3.1 0a1.55 1.55 0 1 0 -3.1 0zM339.26 149.41a1.55 1.55 0 1 0 3.1 0a1.55 1.55 0 1 0 -3.1 0zM340.75 147.74a1.55 1.55 0 1 0 3.1 0a1.55 1.55 0 1 0 -3.1 0zM342.23 148.55a1.55 1.55 0 1 0 3.1 0a1.55 1.55 0 1 0 -3.1 0zM343.72 149.41a1.55 1.55 0 1 0 3.1 0a1.55 1.55 0 1 0 -3.1 0zM345.21 148.83a1.55 1.55 0 1 0 3.1 0a1.55 1.55 0 1 0 -3.1 0zM346.7 149.45a1.55 1.55 0 1 0 3.1 0a1.55 1.55 0 1 0 -3.1 0zM348.18 147.95a1.55 1.55 0 1 0 3.1 0a1.55 1.55 0 1 0 -3.1 0zM349.67 148.97a1.55 1.55 0 1 0 3.1 0a1.55 1.55 0 1 0 -3.1 0zM351.16 147.75a1.55 1.55 0 1 0 3.1 0a1.55 1.55 0 1 0 -3.1 0zM352.65 148.19a1.55 1.55 0 1 0 3.1 0a1.55 1.55 0 1 0 -3.1 0zM354.13 148.92a1.55 1.55 0 1 0 3.1 0a1.55 1.55 0 1 0 -3.1 0zM355.62 148.65a1.55 1.55 0 1 0 3.1 0a1.55 1.55 0 1 0 -3.1 0zM357.11 147.48a1.55 1.55 0 1 0 3.1 0a1.55 1.55 0 1 0 -3.1 0zM358.59 148.28a1.55 1.55 0 1 0 3.1 0a1.55 1.55 0 1 0 -3.1 0zM360.08 149.13a1.55 1.55 0 1 0 3.1 0a1.55 1.55 0 1 0 -3.1 0zM361.57 149.23a1.55 1.55 0 1 0 3.1 0a1.55 1.55 0 1 0 -3.1 0zM363.06 147.98a1.55 1.55 0 1 0 3.1 0a1.55 1.55 0 1 0 -3.1 0zM364.54 148.62a1.55 1.55 0 1 0 3.1 0a1.55 1.55 0 1 0 -3.1 0zM366.03 148.46a1.55 1.55 0 1 0 3.1 0a1.55 1.55 0 1 0 -3.1 0zM367.52 149.97a1.55 1.55 0 1 0 3.1 0a1.55 1.55 0 1 0 -3.1 0zM369 149.21a1.55 1.55 0 1 0 3.1 0a1.55 1.55 0 1 0 -3.1 0zM370.49 150.42a1.55 1.55 0 1 0 3.1 0a1.55 1.55 0 1 0 -3.1 0zM371.98 148.99a1.55 1.55 0 1 0 3.1 0a1.55 1.55 0 1 0 -3.1 0zM373.47 150.45a1.55 1.55 0 1 0 3.1 0a1.55 1.55 0 1 0 -3.1 0zM374.95 148.71a1.55 1.55 0 1 0 3.1 0a1.55 1.55 0 1 0 -3.1 0zM376.44 150.15a1.55 1.55 0 1 0 3.1 0a1.55 1.55 0 1 0 -3.1 0zM377.93 150.37a1.55 1.55 0 1 0 3.1 0a1.55 1.55 0 1 0 -3.1 0zM379.42 150.14a1.55 1.55 0 1 0 3.1 0a1.55 1.55 0 1 0 -3.1 0zM380.9 149.45a1.55 1.55 0 1 0 3.1 0a1.55 1.55 0 1 0 -3.1 0zM382.39 149.27a1.55 1.55 0 1 0 3.1 0a1.55 1.55 0 1 0 -3.1 0zM383.88 149.96a1.55 1.55 0 1 0 3.1 0a1.55 1.55 0 1 0 -3.1 0zM385.36 148.94a1.55 1.55 0 1 0 3.1 0a1.55 1.55 0 1 0 -3.1 0zM386.85 149.01a1.55 1.55 0 1 0 3.1 0a1.55 1.55 0 1 0 -3.1 0zM388.34 150.13a1.55 1.55 0 1 0 3.1 0a1.55 1.55 0 1 0 -3.1 0zM389.83 149.68a1.55 1.55 0 1 0 3.1 0a1.55 1.55 0 1 0 -3.1 0zM391.31 148.17a1.55 1.55 0 1 0 3.1 0a1.55 1.55 0 1 0 -3.1 0zM392.8 149.41a1.55 1.55 0 1 0 3.1 0a1.55 1.55 0 1 0 -3.1 0zM394.29 148.54a1.55 1.55 0 1 0 3.1 0a1.55 1.55 0 1 0 -3.1 0zM395.77 148.93a1.55 1.55 0 1 0 3.1 0a1.55 1.55 0 1 0 -3.1 0zM397.26 149.03a1.55 1.55 0 1 0 3.1 0a1.55 1.55 0 1 0 -3.1 0zM398.75 148.41a1.55 1.55 0 1 0 3.1 0a1.55 1.55 0 1 0 -3.1 0zM400.24 150.78a1.55 1.55 0 1 0 3.1 0a1.55 1.55 0 1 0 -3.1 0zM401.72 149.38a1.55 1.55 0 1 0 3.1 0a1.55 1.55 0 1 0 -3.1 0zM403.21 148.44a1.55 1.55 0 1 0 3.1 0a1.55 1.55 0 1 0 -3.1 0zM404.7 149.42a1.55 1.55 0 1 0 3.1 0a1.55 1.55 0 1 0 -3.1 0zM406.19 150.92a1.55 1.55 0 1 0 3.1 0a1.55 1.55 0 1 0 -3.1 0zM407.67 148.36a1.55 1.55 0 1 0 3.1 0a1.55 1.55 0 1 0 -3.1 0zM409.16 148.93a1.55 1.55 0 1 0 3.1 0a1.55 1.55 0 1 0 -3.1 0zM410.65 149.95a1.55 1.55 0 1 0 3.1 0a1.55 1.55 0 1 0 -3.1 0zM412.13 150.52a1.55 1.55 0 1 0 3.1 0a1.55 1.55 0 1 0 -3.1 0zM413.62 150.98a1.55 1.55 0 1 0 3.1 0a1.55 1.55 0 1 0 -3.1 0zM415.11 148.46a1.55 1.55 0 1 0 3.1 0a1.55 1.55 0 1 0 -3.1 0zM416.6 148.74a1.55 1.55 0 1 0 3.1 0a1.55 1.55 0 1 0 -3.1 0zM418.08 150.73a1.55 1.55 0 1 0 3.1 0a1.55 1.55 0 1 0 -3.1 0zM419.57 150.65a1.55 1.55 0 1 0 3.1 0a1.55 1.55 0 1 0 -3.1 0zM421.06 149.13a1.55 1.55 0 1 0 3.1 0a1.55 1.55 0 1 0 -3.1 0zM422.54 150.74a1.55 1.55 0 1 0 3.1 0a1.55 1.55 0 1 0 -3.1 0zM424.03 149.55a1.55 1.55 0 1 0 3.1 0a1.55 1.55 0 1 0 -3.1 0zM425.52 150.14a1.55 1.55 0 1 0 3.1 0a1.55 1.55 0 1 0 -3.1 0zM427.01 149.56a1.55 1.55 0 1 0 3.1 0a1.55 1.55 0 1 0 -3.1 0zM428.49 149.39a1.55 1.55 0 1 0 3.1 0a1.55 1.55 0 1 0 -3.1 0zM429.98 150.36a1.55 1.55 0 1 0 3.1 0a1.55 1.55 0 1 0 -3.1 0zM431.47 150.37a1.55 1.55 0 1 0 3.1 0a1.55 1.55 0 1 0 -3.1 0zM432.96 150.7a1.55 1.55 0 1 0 3.1 0a1.55 1.55 0 1 0 -3.1 0zM434.44 148.57a1.55 1.55 0 1 0 3.1 0a1.55 1.55 0 1 0 -3.1 0zM435.93 150.03a1.55 1.55 0 1 0 3.1 0a1.55 1.55 0 1 0 -3.1 0zM437.42 151.09a1.55 1.55 0 1 0 3.1 0a1.55 1.55 0 1 0 -3.1 0zM438.9 149.91a1.55 1.55 0 1 0 3.1 0a1.55 1.55 0 1 0 -3.1 0zM440.39 149.48a1.55 1.55 0 1 0 3.1 0a1.55 1.55 0 1 0 -3.1 0zM441.88 148.83a1.55 1.55 0 1 0 3.1 0a1.55 1.55 0 1 0 -3.1 0zM443.37 150.42a1.55 1.55 0 1 0 3.1 0a1.55 1.55 0 1 0 -3.1 0zM444.85 149.15a1.55 1.55 0 1 0 3.1 0a1.55 1.55 0 1 0 -3.1 0zM446.34 149.49a1.55 1.55 0 1 0 3.1 0a1.55 1.55 0 1 0 -3.1 0zM447.83 148.78a1.55 1.55 0 1 0 3.1 0a1.55 1.55 0 1 0 -3.1 0zM449.31 150.45a1.55 1.55 0 1 0 3.1 0a1.55 1.55 0 1 0 -3.1 0zM450.8 150.84a1.55 1.55 0 1 0 3.1 0a1.55 1.55 0 1 0 -3.1 0zM452.29 151.37a1.55 1.55 0 1 0 3.1 0a1.55 1.55 0 1 0 -3.1 0zM453.78 149.86a1.55 1.55 0 1 0 3.1 0a1.55 1.55 0 1 0 -3.1 0z" fill="#00fa00"/>
</g>
<text transform="translate(256.3 155.1) scale(0.93 1)" font-size="8.7" text-anchor="end" fill="#383838">0</text>
<text transform="translate(256.3 108.57) scale(0.93 1)" font-size="8.7" text-anchor="end" fill="#383838">1</text>
<text transform="translate(256.3 62.03) scale(0.93 1)" font-size="8.7" text-anchor="end" fill="#383838">2</text>
<text transform="translate(256.3 15.5) scale(0.93 1)" font-size="8.7" text-anchor="end" fill="#383838">3</text>
<text transform="translate(260.5 163.2) scale(0.93 1)" font-size="8.7" text-anchor="middle" fill="#383838">0</text>
<text transform="translate(308.48 163.2) scale(0.93 1)" font-size="8.7" text-anchor="middle" fill="#383838">100</text>
<text transform="translate(356.45 163.2) scale(0.93 1)" font-size="8.7" text-anchor="middle" fill="#383838">200</text>
<text transform="translate(404.42 163.2) scale(0.93 1)" font-size="8.7" text-anchor="middle" fill="#383838">300</text>
<text transform="translate(452.4 163.2) scale(0.93 1)" font-size="8.7" text-anchor="middle" fill="#383838">400</text>
<rect x="362.2" y="23.9" width="78.9" height="38.4" fill="#fff" stroke="#c8c8c8" stroke-width="0.8"/>
<path d="M363.5 30.5H385.9" stroke="#777" stroke-width="0.6"/>
<rect x="373.6" y="29.4" width="2.2" height="2.2" fill="#000"/>
<text x="388.6" y="34.1" font-size="10.2" fill="#222"><tspan font-style="italic">t</tspan><tspan> </tspan><tspan fill-opacity="0">&#8776;</tspan><tspan> </tspan>18.7 nm</text>
<path d="M394.7 30.1q1.3 -1.5 2.6 0t2.6 0M394.7 32.1q1.3 -1.5 2.6 0t2.6 0" fill="none" stroke="#222" stroke-width="0.85"/>
<path d="M363.5 43.1H385.9" stroke="#ff6666" stroke-width="0.6"/>
<rect x="373.6" y="42" width="2.2" height="2.2" fill="#ff0000"/>
<text x="388.6" y="46.7" font-size="10.2" fill="#222"><tspan font-style="italic">t</tspan><tspan> </tspan><tspan fill-opacity="0">&#8776;</tspan><tspan> </tspan>13.7 nm</text>
<path d="M394.7 42.7q1.3 -1.5 2.6 0t2.6 0M394.7 44.7q1.3 -1.5 2.6 0t2.6 0" fill="none" stroke="#222" stroke-width="0.85"/>
<path d="M363.5 55.7H385.9" stroke="#66dd66" stroke-width="0.6"/>
<rect x="373.6" y="54.6" width="2.2" height="2.2" fill="#00dd00"/>
<text x="388.6" y="59.3" font-size="10.2" fill="#222"><tspan font-style="italic">t</tspan><tspan> </tspan><tspan fill-opacity="0">&#8776;</tspan><tspan> </tspan>&#160;&#160;9 nm</text>
<path d="M394.7 55.3q1.3 -1.5 2.6 0t2.6 0M394.7 57.3q1.3 -1.5 2.6 0t2.6 0" fill="none" stroke="#222" stroke-width="0.85"/>
<text x="275.6" y="36.5" font-size="11.2" fill="#111"><tspan font-style="italic">F</tspan><tspan font-size="8" dy="3.3">s1</tspan></text>
<text x="398.5" y="109.6" font-size="11.2" fill="#111"><tspan font-style="italic">F</tspan><tspan font-size="8" dy="3.3">1</tspan></text>
<text transform="translate(241.6 76.9) rotate(-90)" font-size="12.5" text-anchor="middle" fill="#111" >FFT amp. (arb. unit)</text>
<text x="355.0" y="176.6" font-size="13.4" text-anchor="middle" fill="#222"><tspan font-style="italic">F</tspan> (T)</text>
<text x="258.8" y="9.6" font-size="12.5" font-weight="bold" fill="#000">b</text>
<clipPath id="cbb"><rect x="260.1" y="185.9" width="192.7" height="140.79999999999998"/></clipPath>
<g clip-path="url(#cbb)">
<polygon points="260,286.41 260.5,285.94 261,286.75 261.5,284.65 262,286.49 262.5,285.38 263,285.38 263.5,284.92 264,291.77 264.5,300.41 265,302.81 265.5,302.02 266,301.91 266.5,301.33 267,303.02 267.5,300.53 268,300.74 268.5,301.69 269,301.49 269.5,302.06 270,300.95 270.5,301.33 271,303.07 271.5,300.43 272,302.08 272.5,300.69 273,283.08 273.5,265.51 274,266.09 274.5,265.32 275,266.07 275.5,265.64 276,267.14 276.5,264.46 277,277.86 277.5,307.97 278,309.59 278.5,309.46 279,311.99 279.5,309.7 280,310.6 280.5,309.54 281,311.26 281.5,311.75 282,311.01 282.5,311.94 283,310.39 283.5,309.31 284,308.04 284.5,308.05 285,308.07 285.5,307.97 286,307.99 286.5,312 287,309.53 287.5,311.94 288,311.87 288.5,309.34 289,309.83 289.5,309.7 290,310.25 290.5,309.52 291,309.28 291.5,309.3 292,309.32 292.5,309.39 293,311.97 293.5,311.45 294,311.97 294.5,310.36 295,310.42 295.5,309.85 296,310.16 296.5,310.85 297,310.94 297.5,310.02 298,309.69 298.5,310.39 299,310.39 299.5,310.02 300,309.64 300.5,311.91 301,309.6 301.5,309.13 302,309.46 302.5,309.3 303,309.46 303.5,309.4 304,309.32 304.5,311.3 305,311.13 305.5,311.6 306,310.59 306.5,309.42 307,309.5 307.5,309.43 308,309.58 308.5,310.33 309,307.4 309.5,307.4 310,307.4 310.5,310.35 311,310.35 311.5,310.43 312,310.78 312.5,310.51 313,309.67 313.5,310.64 314,311.77 314.5,309.58 315,310.43 315.5,309.89 316,311.69 316.5,309.65 317,309.63 317.5,310.41 318,309.31 318.5,309.31 319,307.84 319.5,307.84 320,307.84 320.5,310.96 321,311.81 321.5,311.58 322,310.87 322.5,311.6 323,310.35 323.5,309.36 324,309.53 324.5,310.51 325,310.45 325.5,310.3 326,310.02 326.5,310.94 327,308.55 327.5,309.49 328,308.99 328.5,308.95 329,306.31 329.5,306.47 330,306.03 330.5,304.55 331,300.7 331.5,299.81 332,296.69 332.5,295.62 333,293.97 333.5,290.72 334,289.28 334.5,287.24 335,270.66 335.5,219.8 336,207.84 336.5,207.84 337,207.84 337.5,207.84 338,207.84 338.5,207.84 339,207.84 339.5,221.62 340,238.84 340.5,285.61 341,292.87 341.5,300.12 342,301.17 342.5,300.67 343,299.28 343.5,297.9 344,297.48 344.5,297.06 345,296.98 345.5,296.98 346,296.98 346.5,297.2 347,298.28 347.5,299.36 348,301.17 348.5,303.16 349,304.82 349.5,306.38 350,307.95 350.5,309.1 351,309.94 351.5,309.37 352,309.15 352.5,310.9 353,311.95 353.5,310.53 354,311.77 354.5,313.37 355,312.33 355.5,311.88 356,314.22 356.5,314.48 357,315.12 357.5,314.29 358,315.82 358.5,315.84 359,315.01 359.5,315.52 360,315.62 360.5,316.5 361,316.68 361.5,318.61 362,317.87 362.5,316.78 363,317.28 363.5,317.9 364,318.11 364.5,317.9 365,317.85 365.5,319.14 366,316.58 366.5,316.92 367,316.96 367.5,316.99 368,317.13 368.5,318.24 369,318.89 369.5,318.73 370,319.09 370.5,320.12 371,318.72 371.5,319.92 372,319.63 372.5,318.17 373,320.14 373.5,320.5 374,318.48 374.5,319.09 375,320.59 375.5,320.16 376,318.45 376.5,320.6 377,319.99 377.5,319.1 378,317.83 378.5,317.88 379,317.72 379.5,317.77 380,317.82 380.5,319.62 381,321.24 381.5,320.19 382,319.55 382.5,319.7 383,321.48 383.5,321.55 384,320.12 384.5,319.21 385,319.82 385.5,319.95 386,319.91 386.5,320.34 387,321.65 387.5,319.19 388,319.47 388.5,321.46 389,320.03 389.5,319.49 390,319.12 390.5,319.13 391,320.24 391.5,319.81 392,317.94 392.5,317.96 393,317.24 393.5,317.43 394,317.46 394.5,319.66 395,318.38 395.5,319.63 396,321.22 396.5,319.13 397,320.24 397.5,320.81 398,320.2 398.5,319.72 399,320.55 399.5,320.04 400,321.01 400.5,319 401,319.57 401.5,319.13 402,321.14 402.5,319.39 403,320.63 403.5,321.01 404,321.3 404.5,320.76 405,321.02 405.5,320.54 406,319.39 406.5,321.03 407,320.98 407.5,321.62 408,320.09 408.5,320.44 409,319.21 409.5,319.54 410,319.56 410.5,319.83 411,320.6 411.5,321.68 412,320.74 412.5,321.58 413,320.24 413.5,320.71 414,320.14 414.5,320.39 415,319.91 415.5,321.29 416,321.8 416.5,321.81 417,321.55 417.5,319.94 418,320.08 418.5,320.8 419,320.97 419.5,319.9 420,319.58 420.5,319.46 421,319.96 421.5,320.54 422,321.43 422.5,320.38 423,321.51 423.5,321.59 424,320.14 424.5,321.79 425,321.48 425.5,319.74 426,319.88 426.5,319.7 427,321.93 427.5,320.52 428,319.92 428.5,321.71 429,319.82 429.5,320.56 430,320.45 430.5,319.82 431,320.3 431.5,321 432,321.16 432.5,318.58 433,317.25 433.5,317.78 434,316.53 434.5,315.66 435,313.78 435.5,315.12 436,313.25 436.5,314.27 437,316.57 437.5,317.77 438,316.84 438.5,317.74 439,318.08 439.5,318.61 440,318.54 440.5,318.49 441,318.45 441.5,320.48 442,319.35 442.5,320.64 443,320.85 443.5,319.34 444,319.73 444.5,320.43 445,321.16 445.5,319.94 446,318.21 446.5,318.92 447,319.12 447.5,319.12 448,317.6 448.5,319.46 449,321.6 449.5,319 450,320.98 450.5,320.65 451,321.29 451.5,320.8 452,320.94 452.5,319.52 453,321.31 453,326.7 260,326.7" fill="#000"/>
<path d="M335 214h0.8v1.1h-0.8zM338.54 216.6h0.8v1.1h-0.8zM335 219.2h0.8v1.1h-0.8zM338.61 221.8h0.8v1.1h-0.8zM335 224.4h0.8v1.1h-0.8zM338.69 227h0.8v1.1h-0.8zM335 229.6h0.8v1.1h-0.8zM338.46 232.2h1.1v1.1h-1.1zM335 234.8h1.1v1.1h-1.1zM338.53 237.4h1.1v1.1h-1.1zM335 240h1.1v1.1h-1.1zM337.2 241.2h0.9v0.9h-0.9zM338.61 242.6h1.1v1.1h-1.1zM335 245.2h1.1v1.1h-1.1zM338.68 247.8h1.1v1.1h-1.1zM337.2 249h0.9v0.9h-0.9zM335 250.4h1.1v1.1h-1.1zM338.76 253h1.1v1.1h-1.1zM335 255.6h1.1v1.1h-1.1zM337.2 256.8h0.9v0.9h-0.9zM338.83 258.2h1.1v1.1h-1.1zM335 260.8h1.1v1.1h-1.1zM338.91 263.4h1.1v1.1h-1.1zM337.2 264.6h0.9v0.9h-0.9zM335 266h1.1v1.1h-1.1zM272.8 268h0.9v1.1h-0.9zM276.3 270.7h0.9v1.1h-0.9zM272.8 273.4h0.9v1.1h-0.9zM276.3 276.1h0.9v1.1h-0.9zM272.8 278.8h0.9v1.1h-0.9zM276.3 281.5h0.9v1.1h-0.9zM272.8 284.2h0.9v1.1h-0.9zM276.3 286.9h0.9v1.1h-0.9zM272.8 289.6h0.9v1.1h-0.9zM276.3 292.3h0.9v1.1h-0.9zM272.8 295h0.9v1.1h-0.9zM276.3 297.7h0.9v1.1h-0.9z" fill="#fff"/>
<polygon points="260,299.89 260.5,299.89 261,299.89 261.5,300.81 262,300.81 262.5,300.81 263,300.58 263.5,301.23 264,301.88 264.5,300.38 265,301.03 265.5,300.76 266,302.07 266.5,301.81 267,299.13 267.5,298.13 268,297.14 268.5,297.87 269,298.01 269.5,298.14 270,297.01 270.5,299.5 271,301.99 271.5,302.15 272,302.05 272.5,301.95 273,303.13 273.5,303.04 274,300.54 274.5,300.34 275,300.14 275.5,302.44 276,303.99 276.5,305.53 277,304.79 277.5,306.33 278,307.33 278.5,309.99 279,310.99 279.5,311.01 280,311.38 280.5,311.4 281,310.91 281.5,310.93 282,310.95 282.5,310.51 283,310.53 283.5,310.55 284,309.96 284.5,309.98 285,310 285.5,309.89 286,309.91 286.5,309.93 287,311.06 287.5,311.08 288,311.79 288.5,311.81 289,311.83 289.5,311.32 290,311.34 290.5,311.36 291,311.13 291.5,311.15 292,311.16 292.5,311.23 293,311.25 293.5,311.27 294,311.05 294.5,311.07 295,312.07 295.5,312.09 296,312.11 296.5,309.75 297,309.77 297.5,309.79 298,311.65 298.5,311.67 299,311.69 299.5,311.05 300,311.07 300.5,311.07 301,310.73 301.5,310.73 302,311.06 302.5,311.06 303,311.06 303.5,311 304,311 304.5,311 305,311.04 305.5,311.04 306,311.04 306.5,310.4 307,310.4 307.5,310.4 308,311.87 308.5,311.87 309,309.97 309.5,309.97 310,309.97 310.5,312.92 311,312.92 311.5,312.92 312,310.68 312.5,310.68 313,310.68 313.5,312.26 314,312.26 314.5,312.26 315,311.3 315.5,311.3 316,310.65 316.5,310.65 317,310.65 317.5,311.89 318,311.89 318.5,311.89 319,310.42 319.5,310.42 320,310.42 320.5,311.76 321,311.7 321.5,311.63 322,312.14 322.5,312.07 323,311.4 323.5,311.34 324,311.27 324.5,312.25 325,312.18 325.5,312.12 326,311.76 326.5,310.84 327,309.92 327.5,306.67 328,306.85 328.5,305.93 329,304.64 329.5,303.1 330,301.57 330.5,300.14 331,298.72 331.5,297.3 332,295.87 332.5,292.97 333,289.7 333.5,286.43 334,283.16 334.5,279.89 335,277.43 335.5,275.17 336,272.91 336.5,270.66 337,269.79 337.5,268.93 338,268.06 338.5,270.39 339,272.72 339.5,275.32 340,278.12 340.5,283.32 341,290.13 341.5,296.83 342,303.06 342.5,306.37 343,307.73 343.5,309.09 344,310.45 344.5,311.25 345,311.35 345.5,311.63 346,311.73 346.5,311.83 347,311.8 347.5,311.9 348,312 348.5,312.17 349,312.5 349.5,312.89 350,312.69 350.5,313.09 351,312.99 351.5,313.4 352,313.8 352.5,315.89 353,316.27 353.5,316.65 354,316.72 354.5,316.87 355,317.01 355.5,316.88 356,317.03 356.5,317.18 357,318.05 357.5,318.19 358,317.81 358.5,317.96 359,318.11 359.5,317.63 360,317.73 360.5,317.83 361,319.17 361.5,319.27 362,319.36 362.5,319.24 363,319.33 363.5,319.43 364,318.5 364.5,318.6 365,318.63 365.5,318.66 366,318.7 366.5,319.04 367,319.08 367.5,319.11 368,319.25 368.5,319.29 369,319.33 369.5,320.26 370,320.3 370.5,320.35 371,319.49 371.5,319.54 372,319.02 372.5,319.07 373,319.12 373.5,319.5 374,319.55 374.5,319.59 375,319.61 375.5,319.66 376,319.7 376.5,319.82 377,319.87 377.5,319.92 378,319.56 378.5,319.6 379,319.45 379.5,319.49 380,319.54 380.5,319.6 381,319.6 381.5,319.58 382,321.12 382.5,321.1 383,321.09 383.5,320.42 384,320.4 384.5,320.39 385,320.41 385.5,320.39 386,320.28 386.5,320.26 387,320.24 387.5,319.78 388,319.76 388.5,319.74 389,321.13 389.5,321.11 390,321.09 390.5,320.89 391,320.87 391.5,320.89 392,320.18 392.5,320.21 393,319.66 393.5,319.68 394,319.7 394.5,320.62 395,320.65 395.5,320.67 396,320.93 396.5,320.95 397,320.97 397.5,320.51 398,320.53 398.5,320.55 399,320.39 399.5,320.41 400,319.6 400.5,319.62 401,319.64 401.5,319.7 402,319.72 402.5,319.74 403,319.86 403.5,319.88 404,319.9 404.5,320.27 405,320.29 405.5,320.06 406,320.1 406.5,319.87 407,319.67 407.5,319.45 408,319.22 408.5,318.6 409,318.38 409.5,318.15 410,317.82 410.5,317.59 411,317.81 411.5,319.43 412,319.95 412.5,320.47 413,320.16 413.5,320.16 414,319.69 414.5,319.69 415,319.7 415.5,320.84 416,320.84 416.5,320.85 417,319.89 417.5,319.89 418,319.9 418.5,320.2 419,320.2 419.5,320.2 420,321.46 420.5,321.46 421,321.49 421.5,321.5 422,321.5 422.5,321.18 423,321.18 423.5,321.19 424,320.57 424.5,320.57 425,320.58 425.5,320.9 426,320.91 426.5,320.91 427,321.22 427.5,321.22 428,321.07 428.5,321.07 429,321.07 429.5,321.21 430,321.21 430.5,321.21 431,319.95 431.5,319.95 432,319.95 432.5,321.28 433,321.29 433.5,321.29 434,320.99 434.5,320.99 435,319.89 435.5,319.89 436,319.89 436.5,320.89 437,320.89 437.5,320.89 438,321 438.5,321 439,321.01 439.5,320.81 440,320.82 440.5,320.82 441,320.37 441.5,320.37 442,320.33 442.5,320.33 443,320.34 443.5,320 444,320 444.5,320 445,320.52 445.5,320.52 446,320.52 446.5,321.42 447,321.42 447.5,321.43 448,319.9 448.5,319.9 449,321.19 449.5,321.19 450,321.19 450.5,320.36 451,320.37 451.5,320.37 452,320.68 452.5,320.68 453,320.69 453,326.7 260,326.7" fill="#ff0000"/>
<polygon points="336.7,294.8 337.5,294.8 340.4,309 341.6,319 332.6,319 332.6,309 336.3,309" fill="#fff"/>
<polygon points="332.6,309.3 336.2,309.3 336.6,318.5 332.6,318.5" fill="#000"/>
<polyline points="343.5,320.88 344,320.01 344.5,320.03 345,320.06 345.5,320.12 346,320.13 346.5,320.14 347,321.6 347.5,321.59 348,321.59 348.5,320.05 349,320.06 349.5,320.08 350,321.59 350.5,321.59 351,320.58 351.5,320.58 352,320.59 352.5,320.72 353,320.73 353.5,320.73 354,321.46 354.5,321.45 355,321.45 355.5,320.12 356,320.13 356.5,320.15 357,320.64 357.5,320.65 358,320.23 358.5,320.25 359,320.26 359.5,320.62 360,320.63 360.5,320.64 361,320.69 361.5,320.69 362,320.7 362.5,321.39 363,321.39 363.5,321.4 364,321.05 364.5,321.05 365,320.82 365.5,320.82 366,320.83 366.5,321.5 367,321.51 367.5,321.51 368,321.44 368.5,321.44 369,321.45 369.5,320.76 370,320.76 370.5,320.76 371,320.85 371.5,320.86 372,321.02 372.5,321.02 373,321.03 373.5,320.51 374,320.51 374.5,320.51 375,320.98 375.5,320.98 376,320.99 376.5,320.73 377,320.73 377.5,320.74 378,321.46 378.5,321.46 379,320.69 379.5,320.7 380,320.7 380.5,320.43 381,320.43 381.5,320.43 382,320.86 382.5,320.87 383,320.87 383.5,321.12 384,321.13 384.5,321.13 385,320.79 385.5,320.79 386,321.65 386.5,321.65 387,321.65 387.5,320.66 388,320.66 388.5,320.67 389,321.1 389.5,321.11 390,321.11 390.5,321.29 391,321.3 391.5,321.3 392,321.1 392.5,321.1 393,321.5 393.5,321.5 394,321.51 394.5,321.5 395,321.5 395.5,321.5 396,320.77 396.5,320.78 397,320.78 397.5,321.27 398,321.27 398.5,321.27 399,320.75 399.5,320.75 400,320.55 400.5,320.55 401,320.55 401.5,320.86 402,320.86 402.5,320.87 403,321.6 403.5,321.61 404,321.61 404.5,320.74 405,320.74 405.5,320.74 406,321.26 406.5,321.26 407,320.87 407.5,320.87 408,320.87 408.5,321.69 409,321.69 409.5,321.69 410,321.54 410.5,321.54 411,321.54 411.5,321.03 412,321.03 412.5,321.03 413,321.04 413.5,321.04 414,321.77 414.5,321.77 415,321.77 415.5,320.86 416,320.86 416.5,320.86 417,320.64 417.5,320.65 418,320.65 418.5,321.34 419,321.34 419.5,321.34 420,321.31 420.5,321.31 421,321.15 421.5,321.15 422,321.15 422.5,321.55 423,321.55 423.5,321.56 424,321.38 424.5,321.39 425,321.39 425.5,320.96 426,320.96 426.5,320.96 427,321.69 427.5,321.69 428,321.48 428.5,321.48 429,321.48 429.5,320.69 430,320.69 430.5,320.69 431,320.66 431.5,320.66 432,320.66 432.5,321.75 433,321.75 433.5,321.76 434,320.73 434.5,320.73 435,321.83 435.5,321.83 436,321.83 436.5,321.38 437,321.38 437.5,321.38 438,321.69 438.5,321.7 439,321.7 439.5,321.76 440,321.76 440.5,321.76 441,321.25 441.5,321.25 442,321.61 442.5,321.61 443,321.61 443.5,321.1 444,321.1 444.5,321.1 445,321.75 445.5,321.75 446,321.75 446.5,321.06 447,321.06 447.5,321.06 448,320.88 448.5,320.89 449,321.34 449.5,321.34 450,321.34 450.5,321.2 451,321.2 451.5,321.2 452,321.01 452.5,321.01 453,321.01" fill="none" stroke="#000" stroke-width="0.9" stroke-linejoin="round" opacity="0.75"/>
<polygon points="260,315.51 260.5,315.52 261,315.52 261.5,315.94 262,315.94 262.5,315.95 263,317.37 263.5,317.37 264,317.38 264.5,315.85 265,315.85 265.5,315.86 266,315.82 266.5,315.83 267,316.93 267.5,316.94 268,316.94 268.5,316.59 269,316.6 269.5,316.61 270,316.41 270.5,316.42 271,316.43 271.5,317.01 272,317.02 272.5,317.03 273,316.41 273.5,316.42 274,316.18 274.5,316.19 275,316.2 275.5,316.06 276,316.2 276.5,316.34 277,317.63 277.5,317.77 278,317.92 278.5,317.86 279,318 279.5,318.14 280,317.92 280.5,318.07 281,317.37 281.5,317.51 282,317.66 282.5,317.8 283,317.84 283.5,317.88 284,319.82 284.5,319.86 285,319.9 285.5,318.39 286,318.43 286.5,318.47 287,319.84 287.5,319.88 288,319.65 288.5,319.69 289,319.73 289.5,319.1 290,319.14 290.5,319.18 291,318.78 291.5,318.82 292,318.86 292.5,320.23 293,320.27 293.5,320.31 294,318.69 294.5,318.73 295,320.04 295.5,320.08 296,320.12 296.5,319.08 297,319.12 297.5,319.16 298,319.07 298.5,319.11 299,319.15 299.5,320.65 300,320.69 300.5,320.72 301,320.89 301.5,320.92 302,319.38 302.5,319.4 303,319.43 303.5,321.06 304,321.09 304.5,321.12 305,319.74 305.5,319.76 306,319.79 306.5,319.37 307,319.4 307.5,319.43 308,321.46 308.5,321.48 309,320.45 309.5,320.48 310,320.5 310.5,321 311,321.03 311.5,321.06 312,320.3 312.5,320.33 313,320.36 313.5,320.01 314,320.04 314.5,320.07 315,321.32 315.5,321.34 316,321.36 316.5,321.39 317,321.41 317.5,321.61 318,321.64 318.5,321.64 319,320.32 319.5,320.32 320,320.32 320.5,320.51 321,320.51 321.5,320.51 322,320.3 322.5,320.3 323,320.97 323.5,320.97 324,320.97 324.5,320.24 325,320.24 325.5,320.24 326,321.9 326.5,321.9 327,321.9 327.5,320.25 328,320.25 328.5,320.25 329,321.38 329.5,321.38 330,321.28 330.5,321.28 331,321.28 331.5,320.36 332,320.36 332.5,320.36 333,320.59 333.5,320.61 334,319.66 334.5,320.18 335,319.23 335.5,318.27 336,316.88 336.5,315.92 337,313.5 337.5,312.89 338,313.68 338.5,316.26 339,317.05 339.5,317.84 340,317.28 340.5,318.08 341,318.87 341.5,320.59 342,321.38 342.5,321.86 343,321.66 343.5,321.67 344,320.81 344.5,320.83 345,320.86 345.5,320.92 346,320.93 346.5,320.94 347,322.39 347.5,322.39 348,322.39 348.5,320.84 349,320.86 349.5,320.87 350,322.39 350.5,322.39 351,321.37 351.5,321.38 352,321.39 352.5,321.52 353,321.52 353.5,321.53 354,322.26 354.5,322.25 355,322.25 355.5,320.92 356,320.93 356.5,320.95 357,321.44 357.5,321.45 358,321.03 358.5,321.05 359,321.06 359.5,321.42 360,321.43 360.5,321.43 361,321.49 361.5,321.49 362,321.49 362.5,322.19 363,322.19 363.5,322.2 364,321.84 364.5,321.85 365,321.62 365.5,321.62 366,321.63 366.5,322.3 367,322.3 367.5,322.31 368,322.24 368.5,322.24 369,322.24 369.5,321.56 370,321.56 370.5,321.56 371,321.65 371.5,321.65 372,321.82 372.5,321.82 373,321.82 373.5,321.3 374,321.31 374.5,321.31 375,321.78 375.5,321.78 376,321.78 376.5,321.53 377,321.53 377.5,321.54 378,322.25 378.5,322.26 379,321.49 379.5,321.49 380,321.5 380.5,321.22 381,321.23 381.5,321.23 382,321.66 382.5,321.67 383,321.67 383.5,321.92 384,321.93 384.5,321.93 385,321.59 385.5,321.59 386,322.44 386.5,322.45 387,322.45 387.5,321.46 388,321.46 388.5,321.46 389,321.9 389.5,321.91 390,321.91 390.5,322.09 391,322.09 391.5,322.1 392,321.9 392.5,321.9 393,322.3 393.5,322.3 394,322.31 394.5,322.29 395,322.3 395.5,322.3 396,321.57 396.5,321.57 397,321.58 397.5,322.06 398,322.07 398.5,322.07 399,321.54 399.5,321.55 400,321.35 400.5,321.35 401,321.35 401.5,321.66 402,321.66 402.5,321.66 403,322.4 403.5,322.4 404,322.41 404.5,321.53 405,321.53 405.5,321.54 406,322.06 406.5,322.06 407,321.67 407.5,321.67 408,321.67 408.5,322.49 409,322.49 409.5,322.49 410,322.33 410.5,322.34 411,322.34 411.5,321.83 412,321.83 412.5,321.83 413,321.84 413.5,321.84 414,322.57 414.5,322.57 415,322.57 415.5,321.66 416,321.66 416.5,321.66 417,321.44 417.5,321.44 418,321.45 418.5,322.13 419,322.13 419.5,322.14 420,322.11 420.5,322.11 421,321.95 421.5,321.95 422,321.95 422.5,322.35 423,322.35 423.5,322.35 424,322.18 424.5,322.18 425,322.19 425.5,321.76 426,321.76 426.5,321.76 427,322.48 427.5,322.49 428,322.28 428.5,322.28 429,322.28 429.5,321.49 430,321.49 430.5,321.49 431,321.46 431.5,321.46 432,321.46 432.5,322.55 433,322.55 433.5,322.55 434,321.52 434.5,321.52 435,322.62 435.5,322.62 436,322.63 436.5,322.17 437,322.17 437.5,322.18 438,322.49 438.5,322.49 439,322.5 439.5,322.56 440,322.56 440.5,322.56 441,322.05 441.5,322.05 442,322.41 442.5,322.41 443,322.41 443.5,321.9 444,321.9 444.5,321.9 445,322.55 445.5,322.55 446,322.55 446.5,321.85 447,321.86 447.5,321.86 448,321.68 448.5,321.68 449,322.13 449.5,322.14 450,322.14 450.5,322 451,322 451.5,322 452,321.8 452.5,321.81 453,321.81 453,326.4 260,326.4" fill="#00fa00"/>
<polygon points="336.3,327 337.3,321.2 338.3,321.2 340.1,327" fill="#fff"/>
<path d="M336.2 325.7H340.2" stroke="#aaa" stroke-width="0.9"/>
</g>
<rect x="260.5" y="185.9" width="191.9" height="139.6" fill="none" stroke="#555" stroke-width="1.3"/>
<path d="M265.83 325.5v-3.5M265.83 185.9v3.5M292.48 325.5v-3.5M292.48 185.9v3.5M319.14 325.5v-3.5M319.14 185.9v3.5M345.79 325.5v-3.5M345.79 185.9v3.5M372.44 325.5v-3.5M372.44 185.9v3.5M399.09 325.5v-3.5M399.09 185.9v3.5M425.75 325.5v-3.5M425.75 185.9v3.5M452.4 325.5v-3.5M452.4 185.9v3.5M279.16 325.5v-2M279.16 185.9v2M305.81 325.5v-2M305.81 185.9v2M332.46 325.5v-2M332.46 185.9v2M359.12 325.5v-2M359.12 185.9v2M385.77 325.5v-2M385.77 185.9v2M412.42 325.5v-2M412.42 185.9v2M439.07 325.5v-2M439.07 185.9v2M260.5 325.5h3.5M260.5 305.56h3.5M260.5 285.61h3.5M260.5 265.67h3.5M260.5 245.73h3.5M260.5 225.79h3.5M260.5 205.84h3.5M260.5 185.9h3.5M260.5 315.53h2M260.5 295.59h2M260.5 275.64h2M260.5 255.7h2M260.5 235.76h2M260.5 215.81h2M260.5 195.87h2M452.4 325.5h-3.5M452.4 305.56h-3.5M452.4 285.61h-3.5M452.4 265.67h-3.5M452.4 245.73h-3.5M452.4 225.79h-3.5M452.4 205.84h-3.5M452.4 185.9h-3.5M452.4 315.53h-2M452.4 295.59h-2M452.4 275.64h-2M452.4 255.7h-2M452.4 235.76h-2M452.4 215.81h-2M452.4 195.87h-2" stroke="#555" stroke-width="1.0" fill="none"/>
<path d="M261 325.6H336.2M340.2 325.6H452" stroke="#0a8f0a" stroke-width="1.0"/>
<rect x="259.9" y="299.97" width="1.3" height="16.75" fill="#ff0000"/>
<rect x="259.9" y="316.73" width="1.3" height="8.37" fill="#00fa00"/>
<path d="M260.4 288.2h1v0.9h-1zM262.9 290.6h1v0.9h-1zM260.4 293.3h1v0.9h-1zM262.9 295.8h1v0.9h-1z" fill="#fff"/>
<text transform="translate(256.6 328.5) scale(0.93 1)" font-size="8.7" text-anchor="end" fill="#383838">0.0</text>
<text transform="translate(256.6 308.56) scale(0.93 1)" font-size="8.7" text-anchor="end" fill="#383838">0.1</text>
<text transform="translate(256.6 288.61) scale(0.93 1)" font-size="8.7" text-anchor="end" fill="#383838">0.2</text>
<text transform="translate(256.6 268.67) scale(0.93 1)" font-size="8.7" text-anchor="end" fill="#383838">0.3</text>
<text transform="translate(256.6 248.73) scale(0.93 1)" font-size="8.7" text-anchor="end" fill="#383838">0.4</text>
<text transform="translate(256.6 228.79) scale(0.93 1)" font-size="8.7" text-anchor="end" fill="#383838">0.5</text>
<text transform="translate(256.6 208.84) scale(0.93 1)" font-size="8.7" text-anchor="end" fill="#383838">0.6</text>
<text transform="translate(256.6 188.9) scale(0.93 1)" font-size="8.7" text-anchor="end" fill="#383838">0.7</text>
<text transform="translate(265.83 337.3) scale(0.93 1)" font-size="8.7" text-anchor="middle" fill="#383838">1</text>
<text transform="translate(292.48 337.3) scale(0.93 1)" font-size="8.7" text-anchor="middle" fill="#383838">2</text>
<text transform="translate(319.14 337.3) scale(0.93 1)" font-size="8.7" text-anchor="middle" fill="#383838">3</text>
<text transform="translate(345.79 337.3) scale(0.93 1)" font-size="8.7" text-anchor="middle" fill="#383838">4</text>
<text transform="translate(372.44 337.3) scale(0.93 1)" font-size="8.7" text-anchor="middle" fill="#383838">5</text>
<text transform="translate(399.09 337.3) scale(0.93 1)" font-size="8.7" text-anchor="middle" fill="#383838">6</text>
<text transform="translate(425.75 337.3) scale(0.93 1)" font-size="8.7" text-anchor="middle" fill="#383838">7</text>
<text transform="translate(452.4 337.3) scale(0.93 1)" font-size="8.7" text-anchor="middle" fill="#383838">8</text>
<text x="333.5" y="200" font-size="11.2" fill="#111"><tspan font-style="italic">F</tspan><tspan font-size="8" dy="2.9">3</tspan></text>
<text x="270.4" y="255.4" font-size="11.2" fill="#111"><tspan font-style="italic">F</tspan><tspan font-size="8" dy="3.3">2</tspan></text>
<text x="343" y="288.2" font-size="11.2" fill="#111"><tspan font-style="italic">F</tspan><tspan font-size="8" dy="2.9">4</tspan></text>
<text x="429" y="306.6" font-size="11.2" fill="#111"><tspan font-style="italic">F</tspan><tspan font-size="8" dy="3.1">5</tspan></text>
<text transform="translate(240.6 255.4) rotate(-90)" font-size="12.7" text-anchor="middle" fill="#111" >FFT amp. (arb. unit)</text>
<text x="358.4" y="351.2" font-size="12.8" text-anchor="middle" fill="#222"><tspan font-style="italic">F</tspan> (kT)</text>
<rect x="490.8" y="10" width="170.7" height="95.2" fill="none" stroke="#6a6a6a" stroke-width="1.2"/>
<path d="M490.8 105.2v-3M490.8 10v3M533.48 105.2v-3M533.48 10v3M576.15 105.2v-3M576.15 10v3M618.83 105.2v-3M618.83 10v3M661.5 105.2v-3M661.5 10v3M512.14 105.2v-1.8M512.14 10v1.8M554.81 105.2v-1.8M554.81 10v1.8M597.49 105.2v-1.8M597.49 10v1.8M640.16 105.2v-1.8M640.16 10v1.8M490.8 105.2h3M490.8 81.4h3M490.8 57.6h3M490.8 33.8h3M490.8 10h3M490.8 93.3h1.8M490.8 69.5h1.8M490.8 45.7h1.8M490.8 21.9h1.8M661.5 104.8h-3M661.5 90.2h-3M661.5 75.6h-3M661.5 61h-3M661.5 46.4h-3M661.5 31.8h-3M661.5 17.2h-3M661.5 97.5h-1.8M661.5 82.9h-1.8M661.5 68.3h-1.8M661.5 53.7h-1.8M661.5 39.1h-1.8M661.5 24.5h-1.8M661.5 9.9h-1.8" stroke="#6a6a6a" stroke-width="1.0" fill="none"/>
<text transform="translate(487.2 107.1) scale(0.93 1)" font-size="7.2" text-anchor="end" fill="#222">0</text>
<text transform="translate(487.2 83.3) scale(0.93 1)" font-size="7.2" text-anchor="end" fill="#222">20</text>
<text transform="translate(487.2 59.5) scale(0.93 1)" font-size="7.2" text-anchor="end" fill="#222">40</text>
<text transform="translate(487.2 35.7) scale(0.93 1)" font-size="7.2" text-anchor="end" fill="#222">60</text>
<text transform="translate(487.2 11.9) scale(0.93 1)" font-size="7.2" text-anchor="end" fill="#222">80</text>
<text transform="translate(665 107.3) scale(0.93 1)" font-size="7.2" text-anchor="start" fill="#222">0</text>
<text transform="translate(665 92.7) scale(0.93 1)" font-size="7.2" text-anchor="start" fill="#222">2</text>
<text transform="translate(665 78.1) scale(0.93 1)" font-size="7.2" text-anchor="start" fill="#222">4</text>
<text transform="translate(665 63.5) scale(0.93 1)" font-size="7.2" text-anchor="start" fill="#222">6</text>
<text transform="translate(665 48.9) scale(0.93 1)" font-size="7.2" text-anchor="start" fill="#222">8</text>
<text transform="translate(665 34.3) scale(0.93 1)" font-size="7.2" text-anchor="start" fill="#222">10</text>
<text transform="translate(665 19.7) scale(0.93 1)" font-size="7.2" text-anchor="start" fill="#222">12</text>
<rect x="521.55" y="86.65" width="3.5" height="3.5" fill="none" stroke="#ff5cff" stroke-width="0.6"/>
<rect x="527.05" y="82.05" width="3.5" height="3.5" fill="none" stroke="#ff5cff" stroke-width="0.6"/>
<rect x="538.75" y="74.25" width="3.5" height="3.5" fill="none" stroke="#ff5cff" stroke-width="0.6"/>
<rect x="547.05" y="72.45" width="3.5" height="3.5" fill="none" stroke="#ff5cff" stroke-width="0.6"/>
<rect x="547.05" y="65.95" width="3.5" height="3.5" fill="none" stroke="#ff5cff" stroke-width="0.6"/>
<rect x="564.05" y="51.15" width="3.5" height="3.5" fill="none" stroke="#ff5cff" stroke-width="0.6"/>
<rect x="569.05" y="57.65" width="3.5" height="3.5" fill="none" stroke="#ff5cff" stroke-width="0.6"/>
<rect x="588.75" y="58.45" width="3.5" height="3.5" fill="none" stroke="#ff5cff" stroke-width="0.6"/>
<rect x="605.55" y="49.55" width="3.5" height="3.5" fill="none" stroke="#ff5cff" stroke-width="0.6"/>
<rect x="622.15" y="51.05" width="3.5" height="3.5" fill="none" stroke="#ff5cff" stroke-width="0.6"/>
<rect x="639.65" y="42.05" width="3.5" height="3.5" fill="none" stroke="#ff5cff" stroke-width="0.6"/>
<circle cx="523.1" cy="15" r="2.15" fill="none" stroke="#5f70f0" stroke-width="0.6"/>
<circle cx="529" cy="15.8" r="2.15" fill="none" stroke="#5f70f0" stroke-width="0.6"/>
<circle cx="540.5" cy="51.1" r="2.15" fill="none" stroke="#5f70f0" stroke-width="0.6"/>
<circle cx="548.8" cy="57.2" r="2.15" fill="none" stroke="#5f70f0" stroke-width="0.6"/>
<circle cx="548.8" cy="60.7" r="2.15" fill="none" stroke="#5f70f0" stroke-width="0.6"/>
<circle cx="565.4" cy="76.4" r="2.15" fill="none" stroke="#5f70f0" stroke-width="0.6"/>
<circle cx="570.4" cy="69.2" r="2.15" fill="none" stroke="#5f70f0" stroke-width="0.6"/>
<circle cx="590.5" cy="74.3" r="2.15" fill="none" stroke="#5f70f0" stroke-width="0.6"/>
<circle cx="607.3" cy="78.1" r="2.15" fill="none" stroke="#5f70f0" stroke-width="0.6"/>
<circle cx="623.9" cy="76.2" r="2.15" fill="none" stroke="#5f70f0" stroke-width="0.6"/>
<circle cx="641.4" cy="81.5" r="2.15" fill="none" stroke="#5f70f0" stroke-width="0.6"/>
<path d="M533.6 15.5H546" stroke="#111" stroke-width="0.7"/><path d="M548.8 15.5L544.8 13.6V17.4Z" fill="#111"/>
<path d="M520.5 88.4H506" stroke="#111" stroke-width="0.7"/><path d="M502.9 88.4L506.9 86.5V90.3Z" fill="#111"/>
<text transform="translate(473 50) rotate(-90)" font-size="10" text-anchor="middle" fill="#ff00ff" >RRR</text>
<text transform="translate(683 57.8) rotate(-90)" font-size="10" text-anchor="middle" fill="#1a1aff" ><tspan font-style="italic">&#961;</tspan> (<tspan font-style="italic">T</tspan>= 2.5 K) (&#956;&#937;cm)</text>
<text x="489.2" y="7.4" font-size="12.5" font-weight="bold" fill="#000">c</text>
<rect x="490.8" y="111.1" width="170.7" height="104.9" fill="none" stroke="#6a6a6a" stroke-width="1.2"/>
<path d="M490.8 216v-3M490.8 111.1v3M512.14 216v-3M512.14 111.1v3M533.48 216v-3M533.48 111.1v3M554.81 216v-3M554.81 111.1v3M576.15 216v-3M576.15 111.1v3M597.49 216v-3M597.49 111.1v3M618.83 216v-3M618.83 111.1v3M640.16 216v-3M640.16 111.1v3M661.5 216v-3M661.5 111.1v3M501.47 216v-1.8M501.47 111.1v1.8M522.81 216v-1.8M522.81 111.1v1.8M544.14 216v-1.8M544.14 111.1v1.8M565.48 216v-1.8M565.48 111.1v1.8M586.82 216v-1.8M586.82 111.1v1.8M608.16 216v-1.8M608.16 111.1v1.8M629.49 216v-1.8M629.49 111.1v1.8M650.83 216v-1.8M650.83 111.1v1.8M490.8 216h3M490.8 201.01h3M490.8 186.03h3M490.8 171.04h3M490.8 156.06h3M490.8 141.07h3M490.8 126.09h3M490.8 111.1h3M490.8 208.51h1.8M490.8 193.52h1.8M490.8 178.54h1.8M490.8 163.55h1.8M490.8 148.56h1.8M490.8 133.58h1.8M490.8 118.59h1.8M661.5 216h-3M661.5 201.01h-3M661.5 186.03h-3M661.5 171.04h-3M661.5 156.06h-3M661.5 141.07h-3M661.5 126.09h-3M661.5 111.1h-3M661.5 208.51h-1.8M661.5 193.52h-1.8M661.5 178.54h-1.8M661.5 163.55h-1.8M661.5 148.56h-1.8M661.5 133.58h-1.8M661.5 118.59h-1.8" stroke="#6a6a6a" stroke-width="1.0" fill="none"/>
<text transform="translate(487.2 218) scale(0.93 1)" font-size="7.2" text-anchor="end" fill="#222">0</text>
<text transform="translate(487.2 203.01) scale(0.93 1)" font-size="7.2" text-anchor="end" fill="#222">20</text>
<text transform="translate(487.2 188.03) scale(0.93 1)" font-size="7.2" text-anchor="end" fill="#222">40</text>
<text transform="translate(487.2 173.04) scale(0.93 1)" font-size="7.2" text-anchor="end" fill="#222">60</text>
<text transform="translate(487.2 158.06) scale(0.93 1)" font-size="7.2" text-anchor="end" fill="#222">80</text>
<text transform="translate(487.2 143.07) scale(0.93 1)" font-size="7.2" text-anchor="end" fill="#222">100</text>
<text transform="translate(487.2 128.09) scale(0.93 1)" font-size="7.2" text-anchor="end" fill="#222">120</text>
<text transform="translate(487.2 113.1) scale(0.93 1)" font-size="7.2" text-anchor="end" fill="#222">140</text>
<rect x="494" y="113.6" width="122" height="20.7" fill="#fff" stroke="#d0d0d0" stroke-width="0.7"/>
<polygon points="502.8,116.6 505.27,118.4 504.33,121.3 501.27,121.3 500.33,118.4" fill="#ff7f11"/>
<polygon points="502.8,126.15 500.05,131.15 505.55,131.15" fill="#05f805"/>
<text x="513.3" y="121.6" font-size="7.25" fill="#222">quantum mean free path for <tspan font-style="italic">F</tspan><tspan font-size="5.5" dy="1.8">s1</tspan></text>
<text x="513.3" y="131.7" font-size="7.25" fill="#222">Drude mean free path</text>
<path d="M590.8 167V182.8" stroke="#ffcfa8" stroke-width="0.6"/>
<path d="M607.1 162.9V177.6" stroke="#ffcfa8" stroke-width="0.6"/>
<path d="M624 163.9V179.2" stroke="#ffcfa8" stroke-width="0.6"/>
<path d="M641.6 181.5V187" stroke="#ffcfa8" stroke-width="0.6"/>
<polygon points="523.6,190.7 526.07,192.5 525.13,195.4 522.07,195.4 521.13,192.5" fill="#ff7f11"/>
<polygon points="540.4,178.1 542.87,179.9 541.93,182.8 538.87,182.8 537.93,179.9" fill="#ff7f11"/>
<polygon points="549.5,183.8 551.97,185.6 551.03,188.5 547.97,188.5 547.03,185.6" fill="#ff7f11"/>
<polygon points="565.6,167.2 568.07,169 567.13,171.9 564.07,171.9 563.13,169" fill="#ff7f11"/>
<polygon points="590.8,172.9 593.27,174.7 592.33,177.6 589.27,177.6 588.33,174.7" fill="#ff7f11"/>
<polygon points="607.1,167.2 609.57,169 608.63,171.9 605.57,171.9 604.63,169" fill="#ff7f11"/>
<polygon points="624,169.1 626.47,170.9 625.53,173.8 622.47,173.8 621.53,170.9" fill="#ff7f11"/>
<polygon points="641.6,181.7 644.07,183.5 643.13,186.4 640.07,186.4 639.13,183.5" fill="#ff7f11"/>
<polygon points="523.6,189.55 520.85,194.55 526.35,194.55" fill="#05f805"/>
<polygon points="529.3,188.85 526.55,193.85 532.05,193.85" fill="#05f805"/>
<polygon points="540.4,173.75 537.65,178.75 543.15,178.75" fill="#05f805"/>
<polygon points="549.5,156.55 546.75,161.55 552.25,161.55" fill="#05f805"/>
<polygon points="549.5,168.55 546.75,173.55 552.25,173.55" fill="#05f805"/>
<polygon points="570.5,151.05 567.75,156.05 573.25,156.05" fill="#05f805"/>
<polygon points="590.8,144.15 588.05,149.15 593.55,149.15" fill="#05f805"/>
<polygon points="607.5,135.65 604.75,140.65 610.25,140.65" fill="#05f805"/>
<polygon points="624.3,140.95 621.55,145.95 627.05,145.95" fill="#05f805"/>
<polygon points="641.7,124.45 638.95,129.45 644.45,129.45" fill="#05f805"/>
<polygon points="565.8,139.75 563.05,144.75 568.55,144.75" fill="#05f805"/>
<text transform="translate(472.6 163.2) rotate(-90)" font-size="10.2" text-anchor="middle" fill="#111" >Mean free path (nm)</text>
<rect x="490.8" y="222.7" width="170.7" height="102.7" fill="none" stroke="#6a6a6a" stroke-width="1.2"/>
<path d="M490.8 325.4v-3M490.8 222.7v3M512.14 325.4v-3M512.14 222.7v3M533.48 325.4v-3M533.48 222.7v3M554.81 325.4v-3M554.81 222.7v3M576.15 325.4v-3M576.15 222.7v3M597.49 325.4v-3M597.49 222.7v3M618.83 325.4v-3M618.83 222.7v3M640.16 325.4v-3M640.16 222.7v3M661.5 325.4v-3M661.5 222.7v3M501.47 325.4v-1.8M501.47 222.7v1.8M522.81 325.4v-1.8M522.81 222.7v1.8M544.14 325.4v-1.8M544.14 222.7v1.8M565.48 325.4v-1.8M565.48 222.7v1.8M586.82 325.4v-1.8M586.82 222.7v1.8M608.16 325.4v-1.8M608.16 222.7v1.8M629.49 325.4v-1.8M629.49 222.7v1.8M650.83 325.4v-1.8M650.83 222.7v1.8M490.8 325.4h3M490.8 299.72h3M490.8 274.05h3M490.8 248.38h3M490.8 222.7h3M490.8 312.56h1.8M490.8 286.89h1.8M490.8 261.21h1.8M490.8 235.54h1.8M661.5 325.4h-3M661.5 299.72h-3M661.5 274.05h-3M661.5 248.38h-3M661.5 222.7h-3M661.5 312.56h-1.8M661.5 286.89h-1.8M661.5 261.21h-1.8M661.5 235.54h-1.8" stroke="#6a6a6a" stroke-width="1.0" fill="none"/>
<text transform="translate(487.2 327.5) scale(0.93 1)" font-size="7.2" text-anchor="end" fill="#222">0</text>
<text transform="translate(487.2 301.82) scale(0.93 1)" font-size="7.2" text-anchor="end" fill="#222">1</text>
<text transform="translate(487.2 276.15) scale(0.93 1)" font-size="7.2" text-anchor="end" fill="#222">2</text>
<text transform="translate(487.2 250.47) scale(0.93 1)" font-size="7.2" text-anchor="end" fill="#222">3</text>
<text transform="translate(487.2 224.8) scale(0.93 1)" font-size="7.2" text-anchor="end" fill="#222">4</text>
<text transform="translate(490.8 334.6) scale(0.93 1)" font-size="7.2" text-anchor="middle" fill="#222">0</text>
<text transform="translate(512.14 334.6) scale(0.93 1)" font-size="7.2" text-anchor="middle" fill="#222">5</text>
<text transform="translate(533.48 334.6) scale(0.93 1)" font-size="7.2" text-anchor="middle" fill="#222">10</text>
<text transform="translate(554.81 334.6) scale(0.93 1)" font-size="7.2" text-anchor="middle" fill="#222">15</text>
<text transform="translate(576.15 334.6) scale(0.93 1)" font-size="7.2" text-anchor="middle" fill="#222">20</text>
<text transform="translate(597.49 334.6) scale(0.93 1)" font-size="7.2" text-anchor="middle" fill="#222">25</text>
<text transform="translate(618.83 334.6) scale(0.93 1)" font-size="7.2" text-anchor="middle" fill="#222">30</text>
<text transform="translate(640.16 334.6) scale(0.93 1)" font-size="7.2" text-anchor="middle" fill="#222">35</text>
<text transform="translate(661.5 334.6) scale(0.93 1)" font-size="7.2" text-anchor="middle" fill="#222">40</text>
<rect x="521.5" y="308.1" width="3.8" height="3.8" fill="#000"/>
<rect x="527.3" y="306.5" width="3.8" height="3.8" fill="#000"/>
<rect x="527.3" y="310.7" width="3.8" height="3.8" fill="#000"/>
<rect x="539" y="273.6" width="3.8" height="3.8" fill="#000"/>
<rect x="547.2" y="271.6" width="3.8" height="3.8" fill="#000"/>
<rect x="547.2" y="277.2" width="3.8" height="3.8" fill="#000"/>
<rect x="564" y="245.9" width="3.8" height="3.8" fill="#000"/>
<rect x="568.9" y="267.3" width="3.8" height="3.8" fill="#000"/>
<rect x="589" y="285.1" width="3.8" height="3.8" fill="#000"/>
<rect x="605.7" y="281.9" width="3.8" height="3.8" fill="#000"/>
<rect x="622.2" y="287.2" width="3.8" height="3.8" fill="#000"/>
<rect x="639.7" y="299.5" width="3.8" height="3.8" fill="#000"/>
<polyline points="528.9,324.4 549,318.3 571,311" fill="none" stroke="#ffa050" stroke-width="0.7" stroke-linejoin="round" />
<path d="M528.9 321.8l2.6 2.6l-2.6 2.6l-2.6 -2.6z" fill="#fff" stroke="#ff9944" stroke-width="0.7"/>
<path d="M549 315.7l2.6 2.6l-2.6 2.6l-2.6 -2.6z" fill="#fff" stroke="#ff9944" stroke-width="0.7"/>
<path d="M571 308.4l2.6 2.6l-2.6 2.6l-2.6 -2.6z" fill="#fff" stroke="#ff9944" stroke-width="0.7"/>
<polyline points="528.9,324.8 549,323.9 571,321.9" fill="none" stroke="#44aa44" stroke-width="0.7" stroke-linejoin="round" />
<polygon points="528.9,322 529.64,323.78 531.56,323.93 530.1,325.19 530.55,327.07 528.9,326.06 527.25,327.07 527.7,325.19 526.24,323.93 528.16,323.78" fill="#fff" stroke="#44aa44" stroke-width="0.6"/>
<polygon points="549,321.1 549.74,322.88 551.66,323.03 550.2,324.29 550.65,326.17 549,325.16 547.35,326.17 547.8,324.29 546.34,323.03 548.26,322.88" fill="#fff" stroke="#44aa44" stroke-width="0.6"/>
<polygon points="571,319.1 571.74,320.88 573.66,321.03 572.2,322.29 572.65,324.17 571,323.16 569.35,324.17 569.8,322.29 568.34,321.03 570.26,320.88" fill="#fff" stroke="#44aa44" stroke-width="0.6"/>
<rect x="616" y="227.5" width="40.9" height="42.5" fill="#fff" stroke="#d0d0d0" stroke-width="0.7"/>
<rect x="627.9" y="233.2" width="3.8" height="3.8" fill="#000"/>
<path d="M618.9 249.7H639.4" stroke="#ffa050" stroke-width="0.7"/>
<path d="M629.8 247.1l2.6 2.6l-2.6 2.6l-2.6 -2.6z" fill="#fff" stroke="#ff9944" stroke-width="0.7"/>
<path d="M618.9 262.4H639.4" stroke="#44aa44" stroke-width="0.7"/>
<polygon points="629.8,259.6 630.54,261.38 632.46,261.53 631,262.79 631.45,264.67 629.8,263.66 628.15,264.67 628.6,262.79 627.14,261.53 629.06,261.38" fill="#fff" stroke="#44aa44" stroke-width="0.6"/>
<text x="642.2" y="238.6" font-size="10" fill="#111"><tspan font-style="italic">F</tspan><tspan font-size="6.5" dy="2.2">s1</tspan></text>
<text x="642.2" y="252.1" font-size="10" fill="#111"><tspan font-style="italic">F</tspan><tspan font-size="6.5" dy="2.2">3</tspan></text>
<text x="642.2" y="265.6" font-size="10" fill="#111"><tspan font-style="italic">F</tspan><tspan font-size="6.5" dy="2.2">4</tspan></text>
<text transform="translate(477.7 273.3) rotate(-90)" font-size="10.1" text-anchor="middle" fill="#111" >FFT amp. (arb. unit)</text>
<text x="577.6" y="346.8" font-size="10.1" text-anchor="middle" fill="#222"><tspan font-style="italic">t</tspan> (nm)</text>
</svg></body></html>
